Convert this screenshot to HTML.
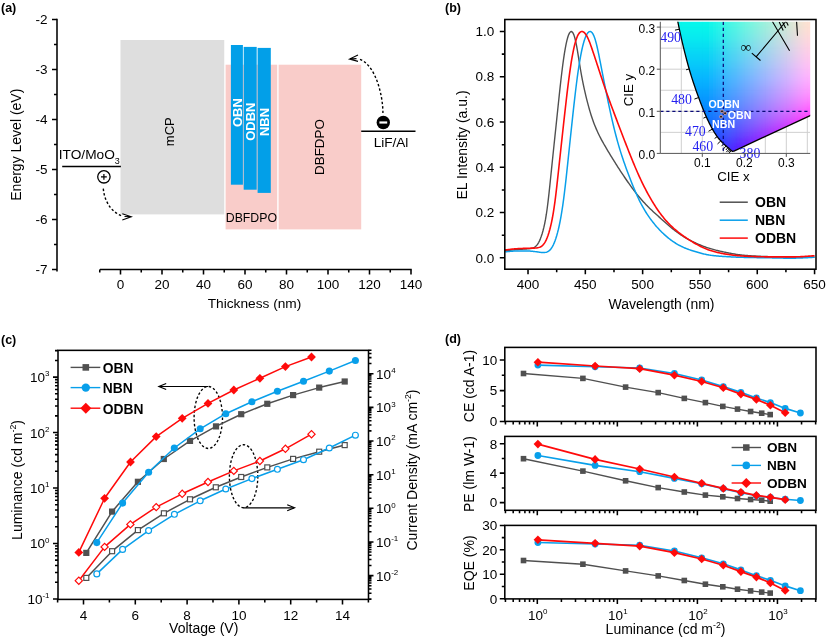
<!DOCTYPE html>
<html lang="en"><head><meta charset="utf-8"><title>Figure</title>
<style>html,body{margin:0;padding:0;background:#fff}svg{display:block}text{font-family:"Liberation Sans",Arial,sans-serif}</style>
</head><body>
<svg width="827" height="639" viewBox="0 0 827 639">
<rect width="827" height="639" fill="#fff"/>
<text x="1" y="11.8" font-size="12.5" text-anchor="start" font-weight="bold" fill="#000" >(a)</text>
<text x="445" y="11.8" font-size="12.5" text-anchor="start" font-weight="bold" fill="#000" >(b)</text>
<text x="1" y="343.5" font-size="12.5" text-anchor="start" font-weight="bold" fill="#000" >(c)</text>
<text x="445" y="343.2" font-size="12.5" text-anchor="start" font-weight="bold" fill="#000" >(d)</text>
<g id="panel-a">
<rect x="120.5" y="40" width="103.75" height="174.4" fill="#dedede"/>
<rect x="225.6" y="64.7" width="51.6" height="164.7" fill="#f9ccc9"/>
<rect x="278.6" y="64.7" width="82.6" height="164.7" fill="#f9ccc9"/>
<rect x="230.9" y="45" width="12" height="139.7" fill="#029fe8"/>
<rect x="243.7" y="46.9" width="13" height="142.8" fill="#029fe8"/>
<rect x="257.6" y="47.9" width="13.2" height="145" fill="#029fe8"/>
<text x="241.9" y="112.6" font-size="13" text-anchor="middle" font-weight="bold" fill="#fff" transform="rotate(-90 241.9 112.6)" >OBN</text>
<text x="255.5" y="121.7" font-size="13" text-anchor="middle" font-weight="bold" fill="#fff" transform="rotate(-90 255.5 121.7)" >ODBN</text>
<text x="269.1" y="122" font-size="13" text-anchor="middle" font-weight="bold" fill="#fff" transform="rotate(-90 269.1 122)" >NBN</text>
<text x="174.4" y="131.7" font-size="13" text-anchor="middle" fill="#000" transform="rotate(-90 174.4 131.7)" >mCP</text>
<text x="323.8" y="147" font-size="13.4" text-anchor="middle" fill="#000" transform="rotate(-90 323.8 147)" >DBFDPO</text>
<text x="251.4" y="222" font-size="12.3" text-anchor="middle" fill="#000" >DBFDPO</text>
<line x1="62.2" y1="166.4" x2="120.9" y2="166.4" stroke="#000" stroke-width="1.5" />
<text x="58.8" y="158.9" font-size="13.7" text-anchor="start" fill="#000" >ITO/MoO<tspan font-size="9" dy="4.6">3</tspan></text>
<line x1="361.2" y1="131.3" x2="415.5" y2="131.3" stroke="#000" stroke-width="1.5" />
<text x="391" y="147" font-size="13.6" text-anchor="middle" fill="#000" >LiF/Al</text>
<circle cx="103.9" cy="176.8" r="6.2" fill="#fff" stroke="#000" stroke-width="1.3"/>
<path d="M101,176.8H106.8M103.9,173.9V179.7" stroke="#000" stroke-width="1.2"/>
<circle cx="383.3" cy="122.5" r="6.7" fill="#000"/>
<path d="M379.4,122.5H387.2" stroke="#fff" stroke-width="2.2"/>
<path d="M103.3,188.6C104.5,202 112,213 123,216.2" stroke="#000" stroke-width="1.4" fill="none" stroke-dasharray="2.4 2.1"/>
<path d="M122.3,213.7L131.3,216.7L122.3,220M131.3,216.7L124.5,216.5" stroke="#000" stroke-width="1.1" fill="none" stroke-linejoin="miter"/>
<path d="M382.9,113C383.1,96 375.5,63.5 358.5,58.9" stroke="#000" stroke-width="1.4" fill="none" stroke-dasharray="2.4 2.1"/>
<path d="M358,55L349.5,59L358,61.4M349.5,59L356.5,58.6" stroke="#000" stroke-width="1.1" fill="none" stroke-linejoin="miter"/>
<line x1="57" y1="18.7" x2="57" y2="271.4" stroke="#000" stroke-width="1.55" />
<text x="47.5" y="24.1" font-size="13.5" text-anchor="end" fill="#000" >-2</text>
<text x="47.5" y="74.1" font-size="13.5" text-anchor="end" fill="#000" >-3</text>
<text x="47.5" y="124.1" font-size="13.5" text-anchor="end" fill="#000" >-4</text>
<text x="47.5" y="174.1" font-size="13.5" text-anchor="end" fill="#000" >-5</text>
<text x="47.5" y="224.1" font-size="13.5" text-anchor="end" fill="#000" >-6</text>
<text x="47.5" y="274.1" font-size="13.5" text-anchor="end" fill="#000" >-7</text>
<line x1="99.9" y1="269.4" x2="411.7" y2="269.4" stroke="#000" stroke-width="1.55" />
<text x="120.5" y="289" font-size="13.5" text-anchor="middle" fill="#000" >0</text>
<text x="162" y="289" font-size="13.5" text-anchor="middle" fill="#000" >20</text>
<text x="203.5" y="289" font-size="13.5" text-anchor="middle" fill="#000" >40</text>
<text x="245" y="289" font-size="13.5" text-anchor="middle" fill="#000" >60</text>
<text x="286.5" y="289" font-size="13.5" text-anchor="middle" fill="#000" >80</text>
<text x="328" y="289" font-size="13.5" text-anchor="middle" fill="#000" >100</text>
<text x="369.5" y="289" font-size="13.5" text-anchor="middle" fill="#000" >120</text>
<text x="411" y="289" font-size="13.5" text-anchor="middle" fill="#000" >140</text>
<path d="M57,19.4L52,19.4M57,44.4L54,44.4M57,69.4L52,69.4M57,94.4L54,94.4M57,119.4L52,119.4M57,144.4L54,144.4M57,169.4L52,169.4M57,194.4L54,194.4M57,219.4L52,219.4M57,244.4L54,244.4M57,269.4L52,269.4M99.75,269.4L99.75,272.4M120.5,269.4L120.5,274.4M141.25,269.4L141.25,272.4M162,269.4L162,274.4M182.75,269.4L182.75,272.4M203.5,269.4L203.5,274.4M224.25,269.4L224.25,272.4M245,269.4L245,274.4M265.75,269.4L265.75,272.4M286.5,269.4L286.5,274.4M307.25,269.4L307.25,272.4M328,269.4L328,274.4M348.75,269.4L348.75,272.4M369.5,269.4L369.5,274.4M390.25,269.4L390.25,272.4M411,269.4L411,274.4" stroke="#000" stroke-width="1.55" fill="none"/>
<text x="21" y="144.7" font-size="14" text-anchor="middle" fill="#000" transform="rotate(-90 21 144.7)" >Energy Level (eV)</text>
<text x="254.5" y="308.3" font-size="13.7" text-anchor="middle" fill="#000" >Thickness (nm)</text>
</g>
<g id="panel-b">
<clipPath id="cb"><rect x="504.8" y="19.5" width="311.2" height="249.7"/></clipPath>
<g clip-path="url(#cb)">
<path d="M505.1,250.78L505.96,250.71L506.82,250.63L507.68,250.53L508.54,250.43L509.4,250.33L510.26,250.22L511.12,250.12L511.98,250.02L512.84,249.92L513.7,249.83L514.56,249.75L515.42,249.67L516.28,249.6L517.14,249.53L517.99,249.46L518.85,249.41L519.71,249.35L520.57,249.3L521.43,249.25L522.29,249.21L523.15,249.16L524.01,249.11L524.87,249.06L525.73,249L526.59,248.94L527.45,248.88L528.31,248.81L529.17,248.72L530.03,248.62L530.89,248.49L531.75,248.32L532.61,248.1L533.47,247.78L534.33,247.36L535.19,246.8L536.05,246.07L536.91,245.13L537.77,243.97L538.63,242.55L539.49,240.85L540.35,238.86L541.21,236.58L542.06,233.98L542.92,231.03L543.78,227.68L544.64,223.84L545.5,219.4L546.36,214.23L547.22,208.24L548.08,201.43L548.94,193.9L549.8,185.84L550.66,177.48L551.52,169.06L552.38,160.7L553.24,152.45L554.1,144.29L554.96,136.15L555.82,127.97L556.68,119.74L557.54,111.47L558.4,103.22L559.26,95.08L560.12,87.14L560.98,79.48L561.84,72.21L562.7,65.39L563.56,59.1L564.42,53.39L565.28,48.29L566.14,43.85L566.99,40.09L567.85,37L568.71,34.61L569.57,32.89L570.43,31.85L571.29,31.5L572.15,31.86L573.01,32.96L573.87,34.85L574.73,37.54L575.59,41.01L576.45,45.21L577.31,49.98L578.17,55.16L579.03,60.52L579.89,65.85L580.75,71L581.61,75.86L582.47,80.4L583.33,84.65L584.19,88.65L585.05,92.46L585.91,96.1L586.77,99.59L587.63,102.95L588.49,106.16L589.35,109.23L590.21,112.16L591.07,114.93L591.92,117.57L592.78,120.07L593.64,122.45L594.5,124.7L595.36,126.84L596.22,128.89L597.08,130.84L597.94,132.71L598.8,134.51L599.66,136.24L600.52,137.92L601.38,139.55L602.24,141.14L603.1,142.69L603.96,144.22L604.82,145.71L605.68,147.19L606.54,148.65L607.4,150.1L608.26,151.53L609.12,152.96L609.98,154.37L610.84,155.78L611.7,157.18L612.56,158.58L613.42,159.97L614.28,161.35L615.14,162.72L615.99,164.08L616.85,165.44L617.71,166.78L618.57,168.12L619.43,169.45L620.29,170.77L621.15,172.09L622.01,173.39L622.87,174.68L623.73,175.97L624.59,177.24L625.45,178.51L626.31,179.76L627.17,181L628.03,182.24L628.89,183.46L629.75,184.67L630.61,185.86L631.47,187.05L632.33,188.21L633.19,189.37L634.05,190.51L634.91,191.63L635.77,192.74L636.63,193.82L637.49,194.9L638.35,195.95L639.21,196.99L640.07,198.01L640.92,199.01L641.78,200L642.64,200.96L643.5,201.92L644.36,202.85L645.22,203.77L646.08,204.67L646.94,205.56L647.8,206.43L648.66,207.29L649.52,208.13L650.38,208.96L651.24,209.78L652.1,210.59L652.96,211.39L653.82,212.19L654.68,212.97L655.54,213.76L656.4,214.53L657.26,215.31L658.12,216.08L658.98,216.86L659.84,217.63L660.7,218.4L661.56,219.17L662.42,219.95L663.28,220.72L664.14,221.49L664.99,222.26L665.85,223.02L666.71,223.78L667.57,224.53L668.43,225.28L669.29,226.02L670.15,226.74L671.01,227.46L671.87,228.17L672.73,228.87L673.59,229.56L674.45,230.23L675.31,230.89L676.17,231.54L677.03,232.18L677.89,232.8L678.75,233.41L679.61,234.01L680.47,234.59L681.33,235.16L682.19,235.72L683.05,236.26L683.91,236.8L684.77,237.32L685.63,237.83L686.49,238.32L687.35,238.81L688.21,239.28L689.07,239.75L689.92,240.2L690.78,240.65L691.64,241.08L692.5,241.51L693.36,241.93L694.22,242.34L695.08,242.74L695.94,243.14L696.8,243.53L697.66,243.91L698.52,244.28L699.38,244.65L700.24,245.01L701.1,245.36L701.96,245.71L702.82,246.04L703.68,246.37L704.54,246.69L705.4,247L706.26,247.3L707.12,247.59L707.98,247.88L708.84,248.15L709.7,248.42L710.56,248.68L711.42,248.94L712.28,249.18L713.14,249.42L713.99,249.66L714.85,249.89L715.71,250.11L716.57,250.32L717.43,250.54L718.29,250.74L719.15,250.95L720.01,251.15L720.87,251.34L721.73,251.54L722.59,251.73L723.45,251.92L724.31,252.1L725.17,252.28L726.03,252.46L726.89,252.64L727.75,252.81L728.61,252.98L729.47,253.15L730.33,253.31L731.19,253.47L732.05,253.62L732.91,253.77L733.77,253.92L734.63,254.06L735.49,254.2L736.35,254.33L737.21,254.45L738.07,254.57L738.92,254.69L739.78,254.79L740.64,254.9L741.5,255L742.36,255.09L743.22,255.18L744.08,255.26L744.94,255.34L745.8,255.42L746.66,255.49L747.52,255.56L748.38,255.63L749.24,255.69L750.1,255.75L750.96,255.81L751.82,255.86L752.68,255.92L753.54,255.97L754.4,256.01L755.26,256.06L756.12,256.11L756.98,256.15L757.84,256.19L758.7,256.23L759.56,256.27L760.42,256.3L761.28,256.34L762.14,256.38L763,256.41L763.85,256.44L764.71,256.47L765.57,256.5L766.43,256.53L767.29,256.56L768.15,256.59L769.01,256.62L769.87,256.64L770.73,256.67L771.59,256.69L772.45,256.71L773.31,256.73L774.17,256.75L775.03,256.77L775.89,256.79L776.75,256.81L777.61,256.82L778.47,256.84L779.33,256.85L780.19,256.87L781.05,256.88L781.91,256.89L782.77,256.9L783.63,256.91L784.49,256.92L785.35,256.93L786.21,256.94L787.07,256.95L787.92,256.96L788.78,256.97L789.64,256.98L790.5,256.99L791.36,256.99L792.22,257L793.08,257.01L793.94,257.02L794.8,257.02L795.66,257.03L796.52,257.03L797.38,257.04L798.24,257.05L799.1,257.05L799.96,257.06L800.82,257.06L801.68,257.07L802.54,257.07L803.4,257.08L804.26,257.08L805.12,257.08L805.98,257.09L806.84,257.09L807.7,257.09L808.56,257.1L809.42,257.1L810.28,257.1L811.14,257.1L812,257.1L812.85,257.11L813.71,257.11L814.57,257.11" stroke="#505050" stroke-width="1.4" fill="none" stroke-linejoin="round"/>
<path d="M505.1,251.75L505.96,251.7L506.82,251.63L507.68,251.56L508.54,251.48L509.4,251.4L510.26,251.32L511.12,251.25L511.98,251.18L512.84,251.13L513.7,251.08L514.56,251.04L515.42,251.01L516.28,250.99L517.14,250.97L517.99,250.97L518.85,250.96L519.71,250.96L520.57,250.96L521.43,250.95L522.29,250.95L523.15,250.96L524.01,250.96L524.87,250.96L525.73,250.96L526.59,250.97L527.45,250.99L528.31,251.01L529.17,251.05L530.03,251.1L530.89,251.16L531.75,251.23L532.61,251.32L533.47,251.41L534.33,251.52L535.19,251.62L536.05,251.74L536.91,251.85L537.77,251.97L538.63,252.1L539.49,252.21L540.35,252.33L541.21,252.43L542.06,252.5L542.92,252.54L543.78,252.54L544.64,252.49L545.5,252.37L546.36,252.18L547.22,251.88L548.08,251.46L548.94,250.89L549.8,250.16L550.66,249.22L551.52,248.07L552.38,246.69L553.24,245.05L554.1,243.15L554.96,240.97L555.82,238.51L556.68,235.74L557.54,232.65L558.4,229.24L559.26,225.46L560.12,221.27L560.98,216.63L561.84,211.48L562.7,205.8L563.56,199.57L564.42,192.83L565.28,185.62L566.14,178.05L566.99,170.18L567.85,162.12L568.71,153.95L569.57,145.73L570.43,137.53L571.29,129.39L572.15,121.33L573.01,113.4L573.87,105.63L574.73,98.06L575.59,90.75L576.45,83.75L577.31,77.15L578.17,70.98L579.03,65.27L579.89,60.04L580.75,55.28L581.61,50.99L582.47,47.14L583.33,43.73L584.19,40.75L585.05,38.21L585.91,36.08L586.77,34.38L587.63,33.07L588.49,32.16L589.35,31.63L590.21,31.5L591.07,31.77L591.92,32.48L592.78,33.64L593.64,35.29L594.5,37.44L595.36,40.08L596.22,43.19L597.08,46.71L597.94,50.58L598.8,54.72L599.66,59.03L600.52,63.43L601.38,67.87L602.24,72.3L603.1,76.7L603.96,81.07L604.82,85.39L605.68,89.68L606.54,93.94L607.4,98.14L608.26,102.29L609.12,106.38L609.98,110.39L610.84,114.32L611.7,118.15L612.56,121.89L613.42,125.53L614.28,129.06L615.14,132.49L615.99,135.81L616.85,139.02L617.71,142.13L618.57,145.14L619.43,148.06L620.29,150.88L621.15,153.62L622.01,156.27L622.87,158.86L623.73,161.39L624.59,163.85L625.45,166.27L626.31,168.64L627.17,170.98L628.03,173.28L628.89,175.55L629.75,177.8L630.61,180.01L631.47,182.2L632.33,184.36L633.19,186.48L634.05,188.56L634.91,190.61L635.77,192.61L636.63,194.56L637.49,196.45L638.35,198.3L639.21,200.09L640.07,201.82L640.92,203.5L641.78,205.13L642.64,206.7L643.5,208.22L644.36,209.69L645.22,211.12L646.08,212.5L646.94,213.84L647.8,215.14L648.66,216.41L649.52,217.64L650.38,218.84L651.24,220L652.1,221.14L652.96,222.24L653.82,223.32L654.68,224.37L655.54,225.4L656.4,226.4L657.26,227.38L658.12,228.33L658.98,229.26L659.84,230.17L660.7,231.05L661.56,231.91L662.42,232.76L663.28,233.58L664.14,234.38L664.99,235.16L665.85,235.92L666.71,236.66L667.57,237.38L668.43,238.08L669.29,238.76L670.15,239.42L671.01,240.06L671.87,240.69L672.73,241.29L673.59,241.88L674.45,242.45L675.31,243L676.17,243.53L677.03,244.05L677.89,244.55L678.75,245.03L679.61,245.49L680.47,245.94L681.33,246.37L682.19,246.79L683.05,247.19L683.91,247.57L684.77,247.94L685.63,248.3L686.49,248.64L687.35,248.97L688.21,249.29L689.07,249.6L689.92,249.9L690.78,250.19L691.64,250.47L692.5,250.75L693.36,251.02L694.22,251.29L695.08,251.56L695.94,251.81L696.8,252.07L697.66,252.32L698.52,252.57L699.38,252.81L700.24,253.05L701.1,253.28L701.96,253.51L702.82,253.73L703.68,253.93L704.54,254.13L705.4,254.32L706.26,254.5L707.12,254.67L707.98,254.83L708.84,254.98L709.7,255.12L710.56,255.25L711.42,255.37L712.28,255.48L713.14,255.58L713.99,255.68L714.85,255.77L715.71,255.86L716.57,255.94L717.43,256.01L718.29,256.08L719.15,256.15L720.01,256.22L720.87,256.28L721.73,256.34L722.59,256.4L723.45,256.46L724.31,256.52L725.17,256.57L726.03,256.62L726.89,256.67L727.75,256.72L728.61,256.77L729.47,256.82L730.33,256.86L731.19,256.91L732.05,256.95L732.91,256.99L733.77,257.03L734.63,257.07L735.49,257.11L736.35,257.15L737.21,257.18L738.07,257.21L738.92,257.24L739.78,257.27L740.64,257.3L741.5,257.32L742.36,257.35L743.22,257.37L744.08,257.39L744.94,257.41L745.8,257.43L746.66,257.45L747.52,257.47L748.38,257.49L749.24,257.5L750.1,257.52L750.96,257.53L751.82,257.55L752.68,257.56L753.54,257.57L754.4,257.59L755.26,257.6L756.12,257.61L756.98,257.63L757.84,257.64L758.7,257.65L759.56,257.66L760.42,257.68L761.28,257.69L762.14,257.7L763,257.72L763.85,257.73L764.71,257.74L765.57,257.76L766.43,257.77L767.29,257.79L768.15,257.81L769.01,257.82L769.87,257.84L770.73,257.86L771.59,257.87L772.45,257.89L773.31,257.91L774.17,257.93L775.03,257.95L775.89,257.97L776.75,257.99L777.61,258.01L778.47,258.03L779.33,258.05L780.19,258.07L781.05,258.08L781.91,258.1L782.77,258.12L783.63,258.13L784.49,258.15L785.35,258.16L786.21,258.17L787.07,258.18L787.92,258.19L788.78,258.19L789.64,258.19L790.5,258.19L791.36,258.19L792.22,258.19L793.08,258.18L793.94,258.17L794.8,258.16L795.66,258.14L796.52,258.12L797.38,258.1L798.24,258.07L799.1,258.04L799.96,258.01L800.82,257.98L801.68,257.94L802.54,257.9L803.4,257.86L804.26,257.81L805.12,257.77L805.98,257.72L806.84,257.68L807.7,257.63L808.56,257.58L809.42,257.53L810.28,257.49L811.14,257.44L812,257.4L812.85,257.36L813.71,257.32L814.57,257.29" stroke="#089fea" stroke-width="1.5" fill="none" stroke-linejoin="round"/>
<path d="M505.1,249.9L505.96,249.83L506.82,249.74L507.68,249.65L508.54,249.54L509.4,249.43L510.26,249.33L511.12,249.22L511.98,249.12L512.84,249.03L513.7,248.95L514.56,248.87L515.42,248.8L516.28,248.74L517.14,248.68L517.99,248.63L518.85,248.58L519.71,248.54L520.57,248.5L521.43,248.46L522.29,248.43L523.15,248.4L524.01,248.37L524.87,248.34L525.73,248.31L526.59,248.28L527.45,248.26L528.31,248.24L529.17,248.21L530.03,248.19L530.89,248.17L531.75,248.15L532.61,248.13L533.47,248.11L534.33,248.08L535.19,248.03L536.05,247.97L536.91,247.88L537.77,247.75L538.63,247.56L539.49,247.31L540.35,246.96L541.21,246.48L542.06,245.86L542.92,245.07L543.78,244.07L544.64,242.84L545.5,241.36L546.36,239.6L547.22,237.56L548.08,235.2L548.94,232.52L549.8,229.5L550.66,226.11L551.52,222.31L552.38,218.02L553.24,213.17L554.1,207.68L554.96,201.52L555.82,194.73L556.68,187.41L557.54,179.7L558.4,171.77L559.26,163.74L560.12,155.72L560.98,147.75L561.84,139.84L562.7,131.99L563.56,124.18L564.42,116.43L565.28,108.76L566.14,101.22L566.99,93.86L567.85,86.76L568.71,79.98L569.57,73.56L570.43,67.56L571.29,61.99L572.15,56.89L573.01,52.28L573.87,48.15L574.73,44.51L575.59,41.36L576.45,38.69L577.31,36.47L578.17,34.7L579.03,33.35L579.89,32.39L580.75,31.79L581.61,31.52L582.47,31.56L583.33,31.9L584.19,32.52L585.05,33.41L585.91,34.57L586.77,35.98L587.63,37.63L588.49,39.5L589.35,41.57L590.21,43.8L591.07,46.16L591.92,48.62L592.78,51.14L593.64,53.71L594.5,56.29L595.36,58.9L596.22,61.51L597.08,64.13L597.94,66.76L598.8,69.39L599.66,72.02L600.52,74.65L601.38,77.27L602.24,79.87L603.1,82.45L603.96,85.01L604.82,87.54L605.68,90.04L606.54,92.52L607.4,94.96L608.26,97.37L609.12,99.75L609.98,102.11L610.84,104.44L611.7,106.76L612.56,109.05L613.42,111.34L614.28,113.61L615.14,115.88L615.99,118.14L616.85,120.4L617.71,122.66L618.57,124.93L619.43,127.19L620.29,129.45L621.15,131.71L622.01,133.96L622.87,136.21L623.73,138.45L624.59,140.69L625.45,142.91L626.31,145.12L627.17,147.32L628.03,149.51L628.89,151.68L629.75,153.84L630.61,155.99L631.47,158.12L632.33,160.24L633.19,162.33L634.05,164.41L634.91,166.46L635.77,168.49L636.63,170.49L637.49,172.46L638.35,174.41L639.21,176.32L640.07,178.19L640.92,180.03L641.78,181.84L642.64,183.62L643.5,185.36L644.36,187.07L645.22,188.74L646.08,190.39L646.94,192L647.8,193.59L648.66,195.15L649.52,196.68L650.38,198.18L651.24,199.66L652.1,201.11L652.96,202.53L653.82,203.93L654.68,205.29L655.54,206.63L656.4,207.94L657.26,209.22L658.12,210.47L658.98,211.7L659.84,212.89L660.7,214.05L661.56,215.18L662.42,216.29L663.28,217.36L664.14,218.41L664.99,219.43L665.85,220.42L666.71,221.38L667.57,222.32L668.43,223.23L669.29,224.12L670.15,224.99L671.01,225.83L671.87,226.65L672.73,227.45L673.59,228.23L674.45,228.99L675.31,229.73L676.17,230.45L677.03,231.16L677.89,231.85L678.75,232.53L679.61,233.2L680.47,233.85L681.33,234.49L682.19,235.12L683.05,235.74L683.91,236.34L684.77,236.94L685.63,237.53L686.49,238.11L687.35,238.68L688.21,239.24L689.07,239.8L689.92,240.34L690.78,240.88L691.64,241.41L692.5,241.93L693.36,242.44L694.22,242.95L695.08,243.44L695.94,243.93L696.8,244.41L697.66,244.88L698.52,245.34L699.38,245.79L700.24,246.23L701.1,246.66L701.96,247.08L702.82,247.49L703.68,247.88L704.54,248.26L705.4,248.63L706.26,248.98L707.12,249.32L707.98,249.65L708.84,249.96L709.7,250.26L710.56,250.54L711.42,250.82L712.28,251.08L713.14,251.34L713.99,251.58L714.85,251.81L715.71,252.03L716.57,252.25L717.43,252.45L718.29,252.65L719.15,252.84L720.01,253.02L720.87,253.2L721.73,253.37L722.59,253.53L723.45,253.69L724.31,253.85L725.17,254L726.03,254.14L726.89,254.28L727.75,254.41L728.61,254.54L729.47,254.67L730.33,254.79L731.19,254.9L732.05,255.02L732.91,255.12L733.77,255.23L734.63,255.32L735.49,255.41L736.35,255.5L737.21,255.59L738.07,255.66L738.92,255.74L739.78,255.81L740.64,255.87L741.5,255.94L742.36,255.99L743.22,256.05L744.08,256.1L744.94,256.15L745.8,256.2L746.66,256.24L747.52,256.29L748.38,256.33L749.24,256.37L750.1,256.41L750.96,256.44L751.82,256.48L752.68,256.51L753.54,256.55L754.4,256.58L755.26,256.61L756.12,256.63L756.98,256.66L757.84,256.68L758.7,256.71L759.56,256.73L760.42,256.75L761.28,256.77L762.14,256.79L763,256.8L763.85,256.81L764.71,256.83L765.57,256.84L766.43,256.85L767.29,256.85L768.15,256.86L769.01,256.87L769.87,256.87L770.73,256.88L771.59,256.88L772.45,256.88L773.31,256.88L774.17,256.88L775.03,256.89L775.89,256.89L776.75,256.89L777.61,256.89L778.47,256.89L779.33,256.89L780.19,256.89L781.05,256.89L781.91,256.89L782.77,256.89L783.63,256.89L784.49,256.89L785.35,256.89L786.21,256.89L787.07,256.89L787.92,256.89L788.78,256.88L789.64,256.88L790.5,256.88L791.36,256.87L792.22,256.87L793.08,256.86L793.94,256.85L794.8,256.84L795.66,256.83L796.52,256.81L797.38,256.79L798.24,256.77L799.1,256.74L799.96,256.71L800.82,256.67L801.68,256.63L802.54,256.58L803.4,256.53L804.26,256.48L805.12,256.42L805.98,256.36L806.84,256.3L807.7,256.23L808.56,256.17L809.42,256.1L810.28,256.04L811.14,255.98L812,255.92L812.85,255.86L813.71,255.81L814.57,255.77" stroke="#ff0a0a" stroke-width="1.6" fill="none" stroke-linejoin="round"/>
</g>
<clipPath id="ci"><rect x="660.3" y="21.8" width="149.9" height="131.6"/></clipPath>
<clipPath id="cl"><path d="M733.42,151.3L733.41,151.3L733.4,151.31L733.38,151.31L733.35,151.32L733.33,151.33L733.3,151.34L733.27,151.34L733.24,151.35L733.21,151.36L733.18,151.36L733.14,151.37L733.11,151.38L733.07,151.38L733.03,151.39L732.99,151.39L732.95,151.39L732.9,151.39L732.84,151.38L732.78,151.38L732.71,151.37L732.63,151.35L732.54,151.33L732.46,151.31L732.37,151.29L732.29,151.25L732.21,151.22L732.14,151.18L732.07,151.13L732,151.09L731.92,151.03L731.85,150.98L731.77,150.92L731.69,150.85L731.6,150.78L731.51,150.71L731.41,150.63L731.3,150.55L731.19,150.46L731.07,150.36L730.94,150.25L730.81,150.14L730.67,150.02L730.52,149.89L730.37,149.76L730.22,149.62L730.06,149.47L729.9,149.32L729.73,149.16L729.55,149L729.37,148.83L729.18,148.66L728.97,148.48L728.76,148.29L728.54,148.09L728.31,147.89L728.06,147.67L727.79,147.44L727.52,147.2L727.23,146.95L726.92,146.69L726.61,146.41L726.28,146.13L725.95,145.84L725.6,145.54L725.24,145.22L724.87,144.9L724.49,144.55L724.09,144.19L723.68,143.8L723.24,143.39L722.79,142.96L722.33,142.5L721.85,142.02L721.36,141.51L720.86,140.98L720.35,140.43L719.82,139.85L719.27,139.22L718.7,138.54L718.11,137.79L717.48,136.97L716.82,136.07L716.13,135.07L715.4,133.97L714.63,132.78L713.84,131.48L713.01,130.09L712.15,128.58L711.25,126.96L710.33,125.21L709.37,123.33L708.37,121.29L707.34,119.1L706.27,116.73L705.17,114.17L704.02,111.42L702.83,108.47L701.58,105.3L700.29,101.93L698.94,98.32L697.53,94.49L696.07,90.41L694.57,86.08L693.03,81.48L691.47,76.61L689.9,71.45L688.32,66L686.75,60.25L685.17,54.21L683.61,47.88L682.05,41.29L680.5,34.43L678.97,27.31L677.45,19.94L675.95,12.33L674.46,4.49L673.01,-3.57L671.57,-11.86L670.17,-20.35L830.2,-38.2L830.2,107.56L810.2,115.56Z"/></clipPath>
<filter id="bl" x="-10%" y="-10%" width="120%" height="120%"><feGaussianBlur stdDeviation="3"/></filter>
<g clip-path="url(#ci)">
<path d="M681.3,21.8V153.4M702.3,21.8V153.4M723.3,21.8V153.4M744.3,21.8V153.4M765.3,21.8V153.4M786.3,21.8V153.4M807.3,21.8V153.4M660.3,132.35H810.2M660.3,111.3H810.2M660.3,90.25H810.2M660.3,69.2H810.2M660.3,48.15H810.2M660.3,27.1H810.2" stroke="#cfcfcf" stroke-width="1" fill="none"/>
<g clip-path="url(#cl)"><g filter="url(#bl)">
<path d="M661,9.8h6v6h-6z" fill="#00f7eb"/><path d="M667,9.8h6v6h-6z" fill="#00f7eb"/><path d="M673,9.8h6v6h-6z" fill="#00f7eb"/><path d="M679,9.8h6v6h-6z" fill="#00f7eb"/><path d="M685,9.8h6v6h-6z" fill="#00f7eb"/><path d="M691,9.8h6v6h-6z" fill="#00f7eb"/><path d="M697,9.8h6v6h-6z" fill="#00f7eb"/><path d="M703,9.8h6v6h-6z" fill="#00f7ea"/><path d="M709,9.8h6v6h-6z" fill="#0cf7e8"/><path d="M715,9.8h6v6h-6z" fill="#1ff7e7"/><path d="M721,9.8h6v6h-6z" fill="#30f7e5"/><path d="M727,9.8h6v6h-6z" fill="#40f7e4"/><path d="M733,9.8h6v6h-6z" fill="#50f7e2"/><path d="M739,9.8h6v6h-6z" fill="#60f7e1"/><path d="M745,9.8h6v6h-6z" fill="#70f6e0"/><path d="M751,9.8h6v6h-6z" fill="#7ff4de"/><path d="M757,9.8h6v6h-6z" fill="#8ef2dd"/><path d="M763,9.8h6v6h-6z" fill="#9df0db"/><path d="M769,9.8h6v6h-6z" fill="#abeeda"/><path d="M775,9.8h6v6h-6z" fill="#baebd8"/><path d="M781,9.8h6v6h-6z" fill="#c8e9d7"/><path d="M787,9.8h6v6h-6z" fill="#d6e7d5"/><path d="M793,9.8h6v6h-6z" fill="#e5e5d4"/><path d="M799,9.8h6v6h-6z" fill="#f3e3d2"/><path d="M805,9.8h6v6h-6z" fill="#ffe1d1"/><path d="M811,9.8h6v6h-6z" fill="#ffe1d1"/><path d="M817,9.8h6v6h-6z" fill="#ffe1d1"/><path d="M661,15.8h6v6h-6z" fill="#00f7eb"/><path d="M667,15.8h6v6h-6z" fill="#00f7eb"/><path d="M673,15.8h6v6h-6z" fill="#00f7eb"/><path d="M679,15.8h6v6h-6z" fill="#00f7eb"/><path d="M685,15.8h6v6h-6z" fill="#00f7eb"/><path d="M691,15.8h6v6h-6z" fill="#00f7eb"/><path d="M697,15.8h6v6h-6z" fill="#00f7eb"/><path d="M703,15.8h6v6h-6z" fill="#00f7ea"/><path d="M709,15.8h6v6h-6z" fill="#0cf7e8"/><path d="M715,15.8h6v6h-6z" fill="#1ff7e7"/><path d="M721,15.8h6v6h-6z" fill="#30f7e5"/><path d="M727,15.8h6v6h-6z" fill="#40f7e4"/><path d="M733,15.8h6v6h-6z" fill="#50f7e2"/><path d="M739,15.8h6v6h-6z" fill="#60f7e1"/><path d="M745,15.8h6v6h-6z" fill="#70f6e0"/><path d="M751,15.8h6v6h-6z" fill="#7ff4de"/><path d="M757,15.8h6v6h-6z" fill="#8ef2dd"/><path d="M763,15.8h6v6h-6z" fill="#9df0db"/><path d="M769,15.8h6v6h-6z" fill="#abeeda"/><path d="M775,15.8h6v6h-6z" fill="#baebd8"/><path d="M781,15.8h6v6h-6z" fill="#c8e9d7"/><path d="M787,15.8h6v6h-6z" fill="#d6e7d5"/><path d="M793,15.8h6v6h-6z" fill="#e5e5d4"/><path d="M799,15.8h6v6h-6z" fill="#f3e3d2"/><path d="M805,15.8h6v6h-6z" fill="#ffe1d1"/><path d="M811,15.8h6v6h-6z" fill="#ffe1d1"/><path d="M817,15.8h6v6h-6z" fill="#ffe1d1"/><path d="M667,21.8h6v6h-6z" fill="#00f7eb"/><path d="M673,21.8h6v6h-6z" fill="#00f7eb"/><path d="M679,21.8h6v6h-6z" fill="#00f7eb"/><path d="M685,21.8h6v6h-6z" fill="#00f7eb"/><path d="M691,21.8h6v6h-6z" fill="#00f7eb"/><path d="M697,21.8h6v6h-6z" fill="#00f7eb"/><path d="M703,21.8h6v6h-6z" fill="#00f7ea"/><path d="M709,21.8h6v6h-6z" fill="#0cf7e8"/><path d="M715,21.8h6v6h-6z" fill="#1ff7e7"/><path d="M721,21.8h6v6h-6z" fill="#30f7e5"/><path d="M727,21.8h6v6h-6z" fill="#40f7e4"/><path d="M733,21.8h6v6h-6z" fill="#50f7e2"/><path d="M739,21.8h6v6h-6z" fill="#60f7e1"/><path d="M745,21.8h6v6h-6z" fill="#70f6e0"/><path d="M751,21.8h6v6h-6z" fill="#7ff4de"/><path d="M757,21.8h6v6h-6z" fill="#8ef2dd"/><path d="M763,21.8h6v6h-6z" fill="#9df0db"/><path d="M769,21.8h6v6h-6z" fill="#abeeda"/><path d="M775,21.8h6v6h-6z" fill="#baebd8"/><path d="M781,21.8h6v6h-6z" fill="#c8e9d7"/><path d="M787,21.8h6v6h-6z" fill="#d6e7d5"/><path d="M793,21.8h6v6h-6z" fill="#e5e5d4"/><path d="M799,21.8h6v6h-6z" fill="#f3e3d2"/><path d="M805,21.8h6v6h-6z" fill="#ffe1d1"/><path d="M811,21.8h6v6h-6z" fill="#ffe1d1"/><path d="M817,21.8h6v6h-6z" fill="#ffe1d1"/><path d="M667,27.8h6v6h-6z" fill="#00f1ec"/><path d="M673,27.8h6v6h-6z" fill="#00f1ec"/><path d="M679,27.8h6v6h-6z" fill="#00f1ec"/><path d="M685,27.8h6v6h-6z" fill="#00f1ec"/><path d="M691,27.8h6v6h-6z" fill="#00f1ec"/><path d="M697,27.8h6v6h-6z" fill="#00f1ec"/><path d="M703,27.8h6v6h-6z" fill="#00f1eb"/><path d="M709,27.8h6v6h-6z" fill="#0cf1ea"/><path d="M715,27.8h6v6h-6z" fill="#1ff1e9"/><path d="M721,27.8h6v6h-6z" fill="#30f1e7"/><path d="M727,27.8h6v6h-6z" fill="#40f1e6"/><path d="M733,27.8h6v6h-6z" fill="#50f1e5"/><path d="M739,27.8h6v6h-6z" fill="#60f1e3"/><path d="M745,27.8h6v6h-6z" fill="#70f0e2"/><path d="M751,27.8h6v6h-6z" fill="#7feee0"/><path d="M757,27.8h6v6h-6z" fill="#8eecdf"/><path d="M763,27.8h6v6h-6z" fill="#9deade"/><path d="M769,27.8h6v6h-6z" fill="#abe8dc"/><path d="M775,27.8h6v6h-6z" fill="#bae6db"/><path d="M781,27.8h6v6h-6z" fill="#c8e4da"/><path d="M787,27.8h6v6h-6z" fill="#d6e2d8"/><path d="M793,27.8h6v6h-6z" fill="#e5e0d7"/><path d="M799,27.8h6v6h-6z" fill="#f3ded6"/><path d="M805,27.8h6v6h-6z" fill="#ffddd4"/><path d="M811,27.8h6v6h-6z" fill="#ffddd4"/><path d="M817,27.8h6v6h-6z" fill="#ffddd4"/><path d="M667,33.8h6v6h-6z" fill="#00eaef"/><path d="M673,33.8h6v6h-6z" fill="#00eaef"/><path d="M679,33.8h6v6h-6z" fill="#00eaef"/><path d="M685,33.8h6v6h-6z" fill="#00eaef"/><path d="M691,33.8h6v6h-6z" fill="#00eaef"/><path d="M697,33.8h6v6h-6z" fill="#00eaef"/><path d="M703,33.8h6v6h-6z" fill="#00eaee"/><path d="M709,33.8h6v6h-6z" fill="#0ceaed"/><path d="M715,33.8h6v6h-6z" fill="#1feaeb"/><path d="M721,33.8h6v6h-6z" fill="#30eaea"/><path d="M727,33.8h6v6h-6z" fill="#40eae9"/><path d="M733,33.8h6v6h-6z" fill="#50eae8"/><path d="M739,33.8h6v6h-6z" fill="#60eae7"/><path d="M745,33.8h6v6h-6z" fill="#70e9e6"/><path d="M751,33.8h6v6h-6z" fill="#7fe7e4"/><path d="M757,33.8h6v6h-6z" fill="#8ee6e3"/><path d="M763,33.8h6v6h-6z" fill="#9de4e2"/><path d="M769,33.8h6v6h-6z" fill="#abe2e1"/><path d="M775,33.8h6v6h-6z" fill="#bae1e0"/><path d="M781,33.8h6v6h-6z" fill="#c8dfde"/><path d="M787,33.8h6v6h-6z" fill="#d6dddd"/><path d="M793,33.8h6v6h-6z" fill="#e5dcdc"/><path d="M799,33.8h6v6h-6z" fill="#f3dadb"/><path d="M805,33.8h6v6h-6z" fill="#ffd9da"/><path d="M811,33.8h6v6h-6z" fill="#ffd9da"/><path d="M817,33.8h6v6h-6z" fill="#ffd9da"/><path d="M667,39.8h6v6h-6z" fill="#00e3f1"/><path d="M673,39.8h6v6h-6z" fill="#00e3f1"/><path d="M679,39.8h6v6h-6z" fill="#00e3f1"/><path d="M685,39.8h6v6h-6z" fill="#00e3f1"/><path d="M691,39.8h6v6h-6z" fill="#00e3f1"/><path d="M697,39.8h6v6h-6z" fill="#00e3f1"/><path d="M703,39.8h6v6h-6z" fill="#00e3f0"/><path d="M709,39.8h6v6h-6z" fill="#0ce3ef"/><path d="M715,39.8h6v6h-6z" fill="#1fe3ee"/><path d="M721,39.8h6v6h-6z" fill="#30e3ed"/><path d="M727,39.8h6v6h-6z" fill="#40e3ec"/><path d="M733,39.8h6v6h-6z" fill="#50e3eb"/><path d="M739,39.8h6v6h-6z" fill="#60e3ea"/><path d="M745,39.8h6v6h-6z" fill="#70e2e9"/><path d="M751,39.8h6v6h-6z" fill="#7fe0e8"/><path d="M757,39.8h6v6h-6z" fill="#8edfe7"/><path d="M763,39.8h6v6h-6z" fill="#9ddee6"/><path d="M769,39.8h6v6h-6z" fill="#abdce5"/><path d="M775,39.8h6v6h-6z" fill="#badbe4"/><path d="M781,39.8h6v6h-6z" fill="#c8dae3"/><path d="M787,39.8h6v6h-6z" fill="#d6d8e2"/><path d="M793,39.8h6v6h-6z" fill="#e5d7e1"/><path d="M799,39.8h6v6h-6z" fill="#f3d5e0"/><path d="M805,39.8h6v6h-6z" fill="#ffd4df"/><path d="M811,39.8h6v6h-6z" fill="#ffd4df"/><path d="M817,39.8h6v6h-6z" fill="#ffd4df"/><path d="M667,45.8h6v6h-6z" fill="#00dbf3"/><path d="M673,45.8h6v6h-6z" fill="#00dbf3"/><path d="M679,45.8h6v6h-6z" fill="#00dbf3"/><path d="M685,45.8h6v6h-6z" fill="#00dbf3"/><path d="M691,45.8h6v6h-6z" fill="#00dbf3"/><path d="M697,45.8h6v6h-6z" fill="#00dbf3"/><path d="M703,45.8h6v6h-6z" fill="#00dbf3"/><path d="M709,45.8h6v6h-6z" fill="#0cdbf2"/><path d="M715,45.8h6v6h-6z" fill="#1fdbf1"/><path d="M721,45.8h6v6h-6z" fill="#30dbf0"/><path d="M727,45.8h6v6h-6z" fill="#40dbf0"/><path d="M733,45.8h6v6h-6z" fill="#50dbef"/><path d="M739,45.8h6v6h-6z" fill="#60dbee"/><path d="M745,45.8h6v6h-6z" fill="#70daed"/><path d="M751,45.8h6v6h-6z" fill="#7fd9ec"/><path d="M757,45.8h6v6h-6z" fill="#8ed8eb"/><path d="M763,45.8h6v6h-6z" fill="#9dd7eb"/><path d="M769,45.8h6v6h-6z" fill="#abd6ea"/><path d="M775,45.8h6v6h-6z" fill="#bad5e9"/><path d="M781,45.8h6v6h-6z" fill="#c8d4e8"/><path d="M787,45.8h6v6h-6z" fill="#d6d3e7"/><path d="M793,45.8h6v6h-6z" fill="#e5d2e6"/><path d="M799,45.8h6v6h-6z" fill="#f3d0e6"/><path d="M805,45.8h6v6h-6z" fill="#ffcfe5"/><path d="M811,45.8h6v6h-6z" fill="#ffcfe5"/><path d="M817,45.8h6v6h-6z" fill="#ffcfe5"/><path d="M673,51.8h6v6h-6z" fill="#00d3f6"/><path d="M679,51.8h6v6h-6z" fill="#00d3f6"/><path d="M685,51.8h6v6h-6z" fill="#00d3f6"/><path d="M691,51.8h6v6h-6z" fill="#00d3f6"/><path d="M697,51.8h6v6h-6z" fill="#00d3f6"/><path d="M703,51.8h6v6h-6z" fill="#00d3f5"/><path d="M709,51.8h6v6h-6z" fill="#0cd3f5"/><path d="M715,51.8h6v6h-6z" fill="#1fd3f4"/><path d="M721,51.8h6v6h-6z" fill="#30d3f3"/><path d="M727,51.8h6v6h-6z" fill="#40d3f3"/><path d="M733,51.8h6v6h-6z" fill="#50d3f2"/><path d="M739,51.8h6v6h-6z" fill="#60d3f1"/><path d="M745,51.8h6v6h-6z" fill="#70d3f1"/><path d="M751,51.8h6v6h-6z" fill="#7fd2f0"/><path d="M757,51.8h6v6h-6z" fill="#8ed1ef"/><path d="M763,51.8h6v6h-6z" fill="#9dd0ef"/><path d="M769,51.8h6v6h-6z" fill="#abcfee"/><path d="M775,51.8h6v6h-6z" fill="#bacfed"/><path d="M781,51.8h6v6h-6z" fill="#c8ceed"/><path d="M787,51.8h6v6h-6z" fill="#d6cdec"/><path d="M793,51.8h6v6h-6z" fill="#e5ccec"/><path d="M799,51.8h6v6h-6z" fill="#f3cbeb"/><path d="M805,51.8h6v6h-6z" fill="#ffcaea"/><path d="M811,51.8h6v6h-6z" fill="#ffcaea"/><path d="M817,51.8h6v6h-6z" fill="#ffcaea"/><path d="M673,57.8h6v6h-6z" fill="#00ccf8"/><path d="M679,57.8h6v6h-6z" fill="#00ccf8"/><path d="M685,57.8h6v6h-6z" fill="#00ccf8"/><path d="M691,57.8h6v6h-6z" fill="#00ccf8"/><path d="M697,57.8h6v6h-6z" fill="#00ccf8"/><path d="M703,57.8h6v6h-6z" fill="#00ccf8"/><path d="M709,57.8h6v6h-6z" fill="#0cccf7"/><path d="M715,57.8h6v6h-6z" fill="#1fccf7"/><path d="M721,57.8h6v6h-6z" fill="#30ccf6"/><path d="M727,57.8h6v6h-6z" fill="#40ccf6"/><path d="M733,57.8h6v6h-6z" fill="#50ccf5"/><path d="M739,57.8h6v6h-6z" fill="#60ccf5"/><path d="M745,57.8h6v6h-6z" fill="#70cbf5"/><path d="M751,57.8h6v6h-6z" fill="#7fcbf4"/><path d="M757,57.8h6v6h-6z" fill="#8ecaf4"/><path d="M763,57.8h6v6h-6z" fill="#9dc9f3"/><path d="M769,57.8h6v6h-6z" fill="#abc9f3"/><path d="M775,57.8h6v6h-6z" fill="#bac8f2"/><path d="M781,57.8h6v6h-6z" fill="#c8c7f2"/><path d="M787,57.8h6v6h-6z" fill="#d6c7f1"/><path d="M793,57.8h6v6h-6z" fill="#e5c6f1"/><path d="M799,57.8h6v6h-6z" fill="#f3c5f0"/><path d="M805,57.8h6v6h-6z" fill="#ffc4f0"/><path d="M811,57.8h6v6h-6z" fill="#ffc4f0"/><path d="M817,57.8h6v6h-6z" fill="#ffc4f0"/><path d="M673,63.8h6v6h-6z" fill="#00c4fb"/><path d="M679,63.8h6v6h-6z" fill="#00c4fb"/><path d="M685,63.8h6v6h-6z" fill="#00c4fb"/><path d="M691,63.8h6v6h-6z" fill="#00c4fb"/><path d="M697,63.8h6v6h-6z" fill="#00c4fb"/><path d="M703,63.8h6v6h-6z" fill="#00c4fa"/><path d="M709,63.8h6v6h-6z" fill="#0cc4fa"/><path d="M715,63.8h6v6h-6z" fill="#1fc4fa"/><path d="M721,63.8h6v6h-6z" fill="#30c4fa"/><path d="M727,63.8h6v6h-6z" fill="#40c4f9"/><path d="M733,63.8h6v6h-6z" fill="#50c3f9"/><path d="M739,63.8h6v6h-6z" fill="#60c3f9"/><path d="M745,63.8h6v6h-6z" fill="#70c3f8"/><path d="M751,63.8h6v6h-6z" fill="#7fc3f8"/><path d="M757,63.8h6v6h-6z" fill="#8ec2f8"/><path d="M763,63.8h6v6h-6z" fill="#9dc2f7"/><path d="M769,63.8h6v6h-6z" fill="#abc1f7"/><path d="M775,63.8h6v6h-6z" fill="#bac1f7"/><path d="M781,63.8h6v6h-6z" fill="#c8c0f6"/><path d="M787,63.8h6v6h-6z" fill="#d6c0f6"/><path d="M793,63.8h6v6h-6z" fill="#e5bff6"/><path d="M799,63.8h6v6h-6z" fill="#f3bff5"/><path d="M805,63.8h6v6h-6z" fill="#ffbef5"/><path d="M811,63.8h6v6h-6z" fill="#ffbef5"/><path d="M817,63.8h6v6h-6z" fill="#ffbdf5"/><path d="M673,69.8h6v6h-6z" fill="#00bbfd"/><path d="M679,69.8h6v6h-6z" fill="#00bbfd"/><path d="M685,69.8h6v6h-6z" fill="#00bbfd"/><path d="M691,69.8h6v6h-6z" fill="#00bbfd"/><path d="M697,69.8h6v6h-6z" fill="#00bbfd"/><path d="M703,69.8h6v6h-6z" fill="#00bbfd"/><path d="M709,69.8h6v6h-6z" fill="#0cbbfd"/><path d="M715,69.8h6v6h-6z" fill="#1fbbfd"/><path d="M721,69.8h6v6h-6z" fill="#30bbfd"/><path d="M727,69.8h6v6h-6z" fill="#40bbfc"/><path d="M733,69.8h6v6h-6z" fill="#50bbfc"/><path d="M739,69.8h6v6h-6z" fill="#60bbfc"/><path d="M745,69.8h6v6h-6z" fill="#70bbfc"/><path d="M751,69.8h6v6h-6z" fill="#7fbbfc"/><path d="M757,69.8h6v6h-6z" fill="#8ebafc"/><path d="M763,69.8h6v6h-6z" fill="#9dbafc"/><path d="M769,69.8h6v6h-6z" fill="#abbafb"/><path d="M775,69.8h6v6h-6z" fill="#babafb"/><path d="M781,69.8h6v6h-6z" fill="#c8b9fb"/><path d="M787,69.8h6v6h-6z" fill="#d6b9fb"/><path d="M793,69.8h6v6h-6z" fill="#e5b8fb"/><path d="M799,69.8h6v6h-6z" fill="#f3b8fb"/><path d="M805,69.8h6v6h-6z" fill="#ffb7fb"/><path d="M811,69.8h6v6h-6z" fill="#ffb6fb"/><path d="M817,69.8h6v6h-6z" fill="#ffb5fb"/><path d="M679,75.8h6v6h-6z" fill="#00b3ff"/><path d="M685,75.8h6v6h-6z" fill="#00b3ff"/><path d="M691,75.8h6v6h-6z" fill="#00b3ff"/><path d="M697,75.8h6v6h-6z" fill="#00b3ff"/><path d="M703,75.8h6v6h-6z" fill="#00b3ff"/><path d="M709,75.8h6v6h-6z" fill="#0cb3ff"/><path d="M715,75.8h6v6h-6z" fill="#1fb3ff"/><path d="M721,75.8h6v6h-6z" fill="#30b3ff"/><path d="M727,75.8h6v6h-6z" fill="#40b3ff"/><path d="M733,75.8h6v6h-6z" fill="#50b3ff"/><path d="M739,75.8h6v6h-6z" fill="#60b2ff"/><path d="M745,75.8h6v6h-6z" fill="#70b2ff"/><path d="M751,75.8h6v6h-6z" fill="#7fb2ff"/><path d="M757,75.8h6v6h-6z" fill="#8eb2ff"/><path d="M763,75.8h6v6h-6z" fill="#9db2ff"/><path d="M769,75.8h6v6h-6z" fill="#abb2ff"/><path d="M775,75.8h6v6h-6z" fill="#bab1ff"/><path d="M781,75.8h6v6h-6z" fill="#c8b1ff"/><path d="M787,75.8h6v6h-6z" fill="#d6b1ff"/><path d="M793,75.8h6v6h-6z" fill="#e5b0ff"/><path d="M799,75.8h6v6h-6z" fill="#f3afff"/><path d="M805,75.8h6v6h-6z" fill="#ffaeff"/><path d="M811,75.8h6v6h-6z" fill="#ffadff"/><path d="M817,75.8h6v6h-6z" fill="#ffacff"/><path d="M679,81.8h6v6h-6z" fill="#00aaff"/><path d="M685,81.8h6v6h-6z" fill="#00aaff"/><path d="M691,81.8h6v6h-6z" fill="#00aaff"/><path d="M697,81.8h6v6h-6z" fill="#00aaff"/><path d="M703,81.8h6v6h-6z" fill="#00aaff"/><path d="M709,81.8h6v6h-6z" fill="#0caaff"/><path d="M715,81.8h6v6h-6z" fill="#1faaff"/><path d="M721,81.8h6v6h-6z" fill="#30aaff"/><path d="M727,81.8h6v6h-6z" fill="#40aaff"/><path d="M733,81.8h6v6h-6z" fill="#50aaff"/><path d="M739,81.8h6v6h-6z" fill="#60a9ff"/><path d="M745,81.8h6v6h-6z" fill="#70a9ff"/><path d="M751,81.8h6v6h-6z" fill="#7fa9ff"/><path d="M757,81.8h6v6h-6z" fill="#8ea9ff"/><path d="M763,81.8h6v6h-6z" fill="#9da9ff"/><path d="M769,81.8h6v6h-6z" fill="#aba8ff"/><path d="M775,81.8h6v6h-6z" fill="#baa8ff"/><path d="M781,81.8h6v6h-6z" fill="#c8a7ff"/><path d="M787,81.8h6v6h-6z" fill="#d6a7ff"/><path d="M793,81.8h6v6h-6z" fill="#e5a6ff"/><path d="M799,81.8h6v6h-6z" fill="#f3a5ff"/><path d="M805,81.8h6v6h-6z" fill="#ffa3ff"/><path d="M811,81.8h6v6h-6z" fill="#ffa2ff"/><path d="M817,81.8h6v6h-6z" fill="#ff9fff"/><path d="M679,87.8h6v6h-6z" fill="#00a1ff"/><path d="M685,87.8h6v6h-6z" fill="#00a1ff"/><path d="M691,87.8h6v6h-6z" fill="#00a1ff"/><path d="M697,87.8h6v6h-6z" fill="#00a1ff"/><path d="M703,87.8h6v6h-6z" fill="#00a1ff"/><path d="M709,87.8h6v6h-6z" fill="#0ca1ff"/><path d="M715,87.8h6v6h-6z" fill="#1fa1ff"/><path d="M721,87.8h6v6h-6z" fill="#30a1ff"/><path d="M727,87.8h6v6h-6z" fill="#40a1ff"/><path d="M733,87.8h6v6h-6z" fill="#50a0ff"/><path d="M739,87.8h6v6h-6z" fill="#60a0ff"/><path d="M745,87.8h6v6h-6z" fill="#70a0ff"/><path d="M751,87.8h6v6h-6z" fill="#7fa0ff"/><path d="M757,87.8h6v6h-6z" fill="#8e9fff"/><path d="M763,87.8h6v6h-6z" fill="#9d9fff"/><path d="M769,87.8h6v6h-6z" fill="#ab9eff"/><path d="M775,87.8h6v6h-6z" fill="#ba9eff"/><path d="M781,87.8h6v6h-6z" fill="#c89dff"/><path d="M787,87.8h6v6h-6z" fill="#d69cff"/><path d="M793,87.8h6v6h-6z" fill="#e59aff"/><path d="M799,87.8h6v6h-6z" fill="#f399ff"/><path d="M805,87.8h6v6h-6z" fill="#ff97ff"/><path d="M811,87.8h6v6h-6z" fill="#ff94ff"/><path d="M817,87.8h6v6h-6z" fill="#ff91ff"/><path d="M685,93.8h6v6h-6z" fill="#0098ff"/><path d="M691,93.8h6v6h-6z" fill="#0098ff"/><path d="M697,93.8h6v6h-6z" fill="#0098ff"/><path d="M703,93.8h6v6h-6z" fill="#0098ff"/><path d="M709,93.8h6v6h-6z" fill="#0c98ff"/><path d="M715,93.8h6v6h-6z" fill="#1f98ff"/><path d="M721,93.8h6v6h-6z" fill="#3098ff"/><path d="M727,93.8h6v6h-6z" fill="#4098ff"/><path d="M733,93.8h6v6h-6z" fill="#5096ff"/><path d="M739,93.8h6v6h-6z" fill="#6096ff"/><path d="M745,93.8h6v6h-6z" fill="#7096ff"/><path d="M751,93.8h6v6h-6z" fill="#7f95ff"/><path d="M757,93.8h6v6h-6z" fill="#8e95ff"/><path d="M763,93.8h6v6h-6z" fill="#9d94ff"/><path d="M769,93.8h6v6h-6z" fill="#ab93ff"/><path d="M775,93.8h6v6h-6z" fill="#ba92ff"/><path d="M781,93.8h6v6h-6z" fill="#c891ff"/><path d="M787,93.8h6v6h-6z" fill="#d68fff"/><path d="M793,93.8h6v6h-6z" fill="#e58dff"/><path d="M799,93.8h6v6h-6z" fill="#f38bff"/><path d="M805,93.8h6v6h-6z" fill="#ff88ff"/><path d="M811,93.8h6v6h-6z" fill="#ff84ff"/><path d="M817,93.8h6v6h-6z" fill="#ff7fff"/><path d="M685,99.8h6v6h-6z" fill="#008eff"/><path d="M691,99.8h6v6h-6z" fill="#008eff"/><path d="M697,99.8h6v6h-6z" fill="#008eff"/><path d="M703,99.8h6v6h-6z" fill="#008eff"/><path d="M709,99.8h6v6h-6z" fill="#0c8eff"/><path d="M715,99.8h6v6h-6z" fill="#1f8eff"/><path d="M721,99.8h6v6h-6z" fill="#308eff"/><path d="M727,99.8h6v6h-6z" fill="#408eff"/><path d="M733,99.8h6v6h-6z" fill="#508cff"/><path d="M739,99.8h6v6h-6z" fill="#608cff"/><path d="M745,99.8h6v6h-6z" fill="#708bff"/><path d="M751,99.8h6v6h-6z" fill="#7f8aff"/><path d="M757,99.8h6v6h-6z" fill="#8e8aff"/><path d="M763,99.8h6v6h-6z" fill="#9d89ff"/><path d="M769,99.8h6v6h-6z" fill="#ab87ff"/><path d="M775,99.8h6v6h-6z" fill="#ba86ff"/><path d="M781,99.8h6v6h-6z" fill="#c884ff"/><path d="M787,99.8h6v6h-6z" fill="#d681ff"/><path d="M793,99.8h6v6h-6z" fill="#e57eff"/><path d="M799,99.8h6v6h-6z" fill="#f37bff"/><path d="M805,99.8h6v6h-6z" fill="#ff76ff"/><path d="M811,99.8h6v6h-6z" fill="#ff70ff"/><path d="M817,99.8h6v6h-6z" fill="#ff69ff"/><path d="M685,105.8h6v6h-6z" fill="#0083ff"/><path d="M691,105.8h6v6h-6z" fill="#0083ff"/><path d="M697,105.8h6v6h-6z" fill="#0083ff"/><path d="M703,105.8h6v6h-6z" fill="#0083ff"/><path d="M709,105.8h6v6h-6z" fill="#0c83ff"/><path d="M715,105.8h6v6h-6z" fill="#1f83ff"/><path d="M721,105.8h6v6h-6z" fill="#3083ff"/><path d="M727,105.8h6v6h-6z" fill="#4083ff"/><path d="M733,105.8h6v6h-6z" fill="#5081ff"/><path d="M739,105.8h6v6h-6z" fill="#6080ff"/><path d="M745,105.8h6v6h-6z" fill="#707fff"/><path d="M751,105.8h6v6h-6z" fill="#7f7fff"/><path d="M757,105.8h6v6h-6z" fill="#8e7dff"/><path d="M763,105.8h6v6h-6z" fill="#9d7cff"/><path d="M769,105.8h6v6h-6z" fill="#ab7aff"/><path d="M775,105.8h6v6h-6z" fill="#ba78ff"/><path d="M781,105.8h6v6h-6z" fill="#c875ff"/><path d="M787,105.8h6v6h-6z" fill="#d671ff"/><path d="M793,105.8h6v6h-6z" fill="#e56dff"/><path d="M799,105.8h6v6h-6z" fill="#f367ff"/><path d="M805,105.8h6v6h-6z" fill="#ff60ff"/><path d="M811,105.8h6v6h-6z" fill="#ff57ff"/><path d="M817,105.8h6v6h-6z" fill="#ff4cff"/><path d="M691,111.8h6v6h-6z" fill="#0078ff"/><path d="M697,111.8h6v6h-6z" fill="#0078ff"/><path d="M703,111.8h6v6h-6z" fill="#0078ff"/><path d="M709,111.8h6v6h-6z" fill="#0c78ff"/><path d="M715,111.8h6v6h-6z" fill="#1f78ff"/><path d="M721,111.8h6v6h-6z" fill="#3078ff"/><path d="M727,111.8h6v6h-6z" fill="#4078ff"/><path d="M733,111.8h6v6h-6z" fill="#5075ff"/><path d="M739,111.8h6v6h-6z" fill="#6074ff"/><path d="M745,111.8h6v6h-6z" fill="#7073ff"/><path d="M751,111.8h6v6h-6z" fill="#7f71ff"/><path d="M757,111.8h6v6h-6z" fill="#8e70ff"/><path d="M763,111.8h6v6h-6z" fill="#9d6dff"/><path d="M769,111.8h6v6h-6z" fill="#ab6bff"/><path d="M775,111.8h6v6h-6z" fill="#ba67ff"/><path d="M781,111.8h6v6h-6z" fill="#c863ff"/><path d="M787,111.8h6v6h-6z" fill="#d65eff"/><path d="M793,111.8h6v6h-6z" fill="#e557ff"/><path d="M799,111.8h6v6h-6z" fill="#f34fff"/><path d="M805,111.8h6v6h-6z" fill="#ff44ff"/><path d="M811,111.8h6v6h-6z" fill="#ff3cff"/><path d="M817,111.8h6v6h-6z" fill="#ff3cff"/><path d="M691,117.8h6v6h-6z" fill="#006dff"/><path d="M697,117.8h6v6h-6z" fill="#006dff"/><path d="M703,117.8h6v6h-6z" fill="#006dff"/><path d="M709,117.8h6v6h-6z" fill="#0c6dff"/><path d="M715,117.8h6v6h-6z" fill="#1f6dff"/><path d="M721,117.8h6v6h-6z" fill="#306dff"/><path d="M727,117.8h6v6h-6z" fill="#406dff"/><path d="M733,117.8h6v6h-6z" fill="#5067ff"/><path d="M739,117.8h6v6h-6z" fill="#6066ff"/><path d="M745,117.8h6v6h-6z" fill="#7065ff"/><path d="M751,117.8h6v6h-6z" fill="#7f62ff"/><path d="M757,117.8h6v6h-6z" fill="#8e60ff"/><path d="M763,117.8h6v6h-6z" fill="#9d5dff"/><path d="M769,117.8h6v6h-6z" fill="#ab59ff"/><path d="M775,117.8h6v6h-6z" fill="#ba54ff"/><path d="M781,117.8h6v6h-6z" fill="#c84dff"/><path d="M787,117.8h6v6h-6z" fill="#d646ff"/><path d="M793,117.8h6v6h-6z" fill="#e53cff"/><path d="M799,117.8h6v6h-6z" fill="#f336ff"/><path d="M805,117.8h6v6h-6z" fill="#ff36ff"/><path d="M811,117.8h6v6h-6z" fill="#ff36ff"/><path d="M817,117.8h6v6h-6z" fill="#ff36ff"/><path d="M691,123.8h6v6h-6z" fill="#0060ff"/><path d="M697,123.8h6v6h-6z" fill="#0060ff"/><path d="M703,123.8h6v6h-6z" fill="#0060ff"/><path d="M709,123.8h6v6h-6z" fill="#0c60ff"/><path d="M715,123.8h6v6h-6z" fill="#1f60ff"/><path d="M721,123.8h6v6h-6z" fill="#3060ff"/><path d="M727,123.8h6v6h-6z" fill="#4060ff"/><path d="M733,123.8h6v6h-6z" fill="#5059ff"/><path d="M739,123.8h6v6h-6z" fill="#6057ff"/><path d="M745,123.8h6v6h-6z" fill="#7054ff"/><path d="M751,123.8h6v6h-6z" fill="#7f52ff"/><path d="M757,123.8h6v6h-6z" fill="#8e4eff"/><path d="M763,123.8h6v6h-6z" fill="#9d49ff"/><path d="M769,123.8h6v6h-6z" fill="#ab44ff"/><path d="M775,123.8h6v6h-6z" fill="#ba3dff"/><path d="M781,123.8h6v6h-6z" fill="#c834ff"/><path d="M787,123.8h6v6h-6z" fill="#d630ff"/><path d="M793,123.8h6v6h-6z" fill="#e530ff"/><path d="M799,123.8h6v6h-6z" fill="#f330ff"/><path d="M805,123.8h6v6h-6z" fill="#ff30ff"/><path d="M811,123.8h6v6h-6z" fill="#ff30ff"/><path d="M817,123.8h6v6h-6z" fill="#ff30ff"/><path d="M697,129.8h6v6h-6z" fill="#0053ff"/><path d="M703,129.8h6v6h-6z" fill="#0053ff"/><path d="M709,129.8h6v6h-6z" fill="#0c53ff"/><path d="M715,129.8h6v6h-6z" fill="#1f53ff"/><path d="M721,129.8h6v6h-6z" fill="#3053ff"/><path d="M727,129.8h6v6h-6z" fill="#4053ff"/><path d="M733,129.8h6v6h-6z" fill="#5048ff"/><path d="M739,129.8h6v6h-6z" fill="#6046ff"/><path d="M745,129.8h6v6h-6z" fill="#7042ff"/><path d="M751,129.8h6v6h-6z" fill="#7f3eff"/><path d="M757,129.8h6v6h-6z" fill="#8e39ff"/><path d="M763,129.8h6v6h-6z" fill="#9d33ff"/><path d="M769,129.8h6v6h-6z" fill="#ab2bff"/><path d="M775,129.8h6v6h-6z" fill="#ba29ff"/><path d="M781,129.8h6v6h-6z" fill="#c829ff"/><path d="M787,129.8h6v6h-6z" fill="#d629ff"/><path d="M793,129.8h6v6h-6z" fill="#e529ff"/><path d="M799,129.8h6v6h-6z" fill="#f329ff"/><path d="M805,129.8h6v6h-6z" fill="#ff29ff"/><path d="M697,135.8h6v6h-6z" fill="#0043ff"/><path d="M703,135.8h6v6h-6z" fill="#0043ff"/><path d="M709,135.8h6v6h-6z" fill="#0c43ff"/><path d="M715,135.8h6v6h-6z" fill="#1f43ff"/><path d="M721,135.8h6v6h-6z" fill="#3043ff"/><path d="M727,135.8h6v6h-6z" fill="#4043ff"/><path d="M733,135.8h6v6h-6z" fill="#5035ff"/><path d="M739,135.8h6v6h-6z" fill="#6032ff"/><path d="M745,135.8h6v6h-6z" fill="#702eff"/><path d="M751,135.8h6v6h-6z" fill="#7f29ff"/><path d="M757,135.8h6v6h-6z" fill="#8e22ff"/><path d="M763,135.8h6v6h-6z" fill="#9d22ff"/><path d="M769,135.8h6v6h-6z" fill="#ab22ff"/><path d="M775,135.8h6v6h-6z" fill="#ba22ff"/><path d="M781,135.8h6v6h-6z" fill="#c822ff"/><path d="M787,135.8h6v6h-6z" fill="#d622ff"/><path d="M793,135.8h6v6h-6z" fill="#e522ff"/><path d="M703,141.8h6v6h-6z" fill="#0031ff"/><path d="M709,141.8h6v6h-6z" fill="#0c31ff"/><path d="M715,141.8h6v6h-6z" fill="#1f31ff"/><path d="M721,141.8h6v6h-6z" fill="#3031ff"/><path d="M727,141.8h6v6h-6z" fill="#4031ff"/><path d="M733,141.8h6v6h-6z" fill="#5021ff"/><path d="M739,141.8h6v6h-6z" fill="#601dff"/><path d="M745,141.8h6v6h-6z" fill="#7018ff"/><path d="M751,141.8h6v6h-6z" fill="#7f18ff"/><path d="M757,141.8h6v6h-6z" fill="#8e18ff"/><path d="M763,141.8h6v6h-6z" fill="#9d18ff"/><path d="M769,141.8h6v6h-6z" fill="#ab18ff"/><path d="M775,141.8h6v6h-6z" fill="#ba18ff"/><path d="M781,141.8h6v6h-6z" fill="#c818ff"/><path d="M709,147.8h6v6h-6z" fill="#0c24ff"/><path d="M715,147.8h6v6h-6z" fill="#1f24ff"/><path d="M721,147.8h6v6h-6z" fill="#3024ff"/><path d="M727,147.8h6v6h-6z" fill="#4024ff"/><path d="M733,147.8h6v6h-6z" fill="#5014ff"/><path d="M739,147.8h6v6h-6z" fill="#6012ff"/><path d="M745,147.8h6v6h-6z" fill="#7012ff"/><path d="M751,147.8h6v6h-6z" fill="#7f12ff"/><path d="M757,147.8h6v6h-6z" fill="#8e12ff"/><path d="M763,147.8h6v6h-6z" fill="#9d12ff"/><path d="M769,147.8h6v6h-6z" fill="#ab12ff"/><path d="M715,153.8h6v6h-6z" fill="#1f24ff"/><path d="M721,153.8h6v6h-6z" fill="#3024ff"/><path d="M727,153.8h6v6h-6z" fill="#4024ff"/><path d="M733,153.8h6v6h-6z" fill="#5014ff"/><path d="M739,153.8h6v6h-6z" fill="#6012ff"/><path d="M745,153.8h6v6h-6z" fill="#7012ff"/><path d="M751,153.8h6v6h-6z" fill="#7f12ff"/>
</g></g>
<path d="M733.42,151.3L733.41,151.3L733.4,151.31L733.38,151.31L733.35,151.32L733.33,151.33L733.3,151.34L733.27,151.34L733.24,151.35L733.21,151.36L733.18,151.36L733.14,151.37L733.11,151.38L733.07,151.38L733.03,151.39L732.99,151.39L732.95,151.39L732.9,151.39L732.84,151.38L732.78,151.38L732.71,151.37L732.63,151.35L732.54,151.33L732.46,151.31L732.37,151.29L732.29,151.25L732.21,151.22L732.14,151.18L732.07,151.13L732,151.09L731.92,151.03L731.85,150.98L731.77,150.92L731.69,150.85L731.6,150.78L731.51,150.71L731.41,150.63L731.3,150.55L731.19,150.46L731.07,150.36L730.94,150.25L730.81,150.14L730.67,150.02L730.52,149.89L730.37,149.76L730.22,149.62L730.06,149.47L729.9,149.32L729.73,149.16L729.55,149L729.37,148.83L729.18,148.66L728.97,148.48L728.76,148.29L728.54,148.09L728.31,147.89L728.06,147.67L727.79,147.44L727.52,147.2L727.23,146.95L726.92,146.69L726.61,146.41L726.28,146.13L725.95,145.84L725.6,145.54L725.24,145.22L724.87,144.9L724.49,144.55L724.09,144.19L723.68,143.8L723.24,143.39L722.79,142.96L722.33,142.5L721.85,142.02L721.36,141.51L720.86,140.98L720.35,140.43L719.82,139.85L719.27,139.22L718.7,138.54L718.11,137.79L717.48,136.97L716.82,136.07L716.13,135.07L715.4,133.97L714.63,132.78L713.84,131.48L713.01,130.09L712.15,128.58L711.25,126.96L710.33,125.21L709.37,123.33L708.37,121.29L707.34,119.1L706.27,116.73L705.17,114.17L704.02,111.42L702.83,108.47L701.58,105.3L700.29,101.93L698.94,98.32L697.53,94.49L696.07,90.41L694.57,86.08L693.03,81.48L691.47,76.61L689.9,71.45L688.32,66L686.75,60.25L685.17,54.21L683.61,47.88L682.05,41.29L680.5,34.43L678.97,27.31L677.45,19.94L675.95,12.33L674.46,4.49L673.01,-3.57L671.57,-11.86L670.17,-20.35" stroke="#000" stroke-width="1.3" fill="none"/>
<path d="M733.42,151.3L812.2,114.63" stroke="#000" stroke-width="1.3" fill="none"/>
<path d="M731.24,150.5L728.4,153.99M730.4,149.78L728.26,152.16M729.35,148.81L726.32,152.14M727.96,147.59L725.86,150.01M726.07,145.95L723.12,149.35M723.72,143.84L721.53,146.18M720.78,140.9L717.5,143.98M717.21,136.6L714.63,138.49M712.42,129.07L708.51,131.29M706.33,116.86L703.41,118.15M698.65,97.53L694.42,99.09M689.15,68.91L686.08,69.8M679.37,29.21L674.97,30.14M670.17,-20.35L667.01,-19.84" stroke="#000" stroke-width="1" fill="none"/>
<path d="M723.3,21.8V153.4M660.3,111.3H810.2" stroke="#0a0a78" stroke-width="1.25" stroke-dasharray="3.2 2.8" fill="none"/>
<path d="M756.1,56.9L785.8,21.5M751.8,53.1L760.5,60.5M772.4,21.5L789.6,50.7M779.2,22L783.2,30.5M782.6,22L785.6,28M786.5,22L788.2,25.5M796.6,21.5L797.5,35.7" stroke="#000" stroke-width="1.1" fill="none"/>
<text x="746.1" y="52.4" font-size="14.8" text-anchor="middle" fill="#000" style="font-family:'Liberation Serif',serif" >∞</text>
</g>
<text x="660.3" y="41.6" font-size="13.8" text-anchor="start" fill="#2420f0" style="font-family:'Liberation Serif','Times New Roman',serif" >490</text>
<text x="671.2" y="104.2" font-size="13.8" text-anchor="start" fill="#2420f0" style="font-family:'Liberation Serif','Times New Roman',serif" >480</text>
<text x="685" y="135.7" font-size="13.8" text-anchor="start" fill="#2420f0" style="font-family:'Liberation Serif','Times New Roman',serif" >470</text>
<text x="692.4" y="151.4" font-size="13.8" text-anchor="start" fill="#2420f0" style="font-family:'Liberation Serif','Times New Roman',serif" >460</text>
<text x="739.6" y="158.2" font-size="13.8" text-anchor="start" fill="#2420f0" style="font-family:'Liberation Serif','Times New Roman',serif" >380</text>
<circle cx="722" cy="111.3" r="1.5" fill="#222" stroke="#f0b0b0" stroke-width="0.7"/>
<circle cx="725.1" cy="113.2" r="1.5" fill="#222" stroke="#f0b0b0" stroke-width="0.7"/>
<circle cx="721" cy="116.7" r="1.5" fill="#222" stroke="#f0b0b0" stroke-width="0.7"/>
<text x="708.4" y="107.9" font-size="10.6" text-anchor="start" font-weight="bold" fill="#fff" >ODBN</text>
<text x="727.8" y="119.4" font-size="10.6" text-anchor="start" font-weight="bold" fill="#fff" >OBN</text>
<text x="712.1" y="128.2" font-size="10.6" text-anchor="start" font-weight="bold" fill="#fff" >NBN</text>
<path d="M660.3,21.8V153.4H810.2" stroke="#555" stroke-width="1" fill="none"/>
<text x="655.3" y="158.9" font-size="12" text-anchor="end" fill="#000" >0.0</text>
<text x="655.3" y="116.8" font-size="12" text-anchor="end" fill="#000" >0.1</text>
<text x="655.3" y="74.7" font-size="12" text-anchor="end" fill="#000" >0.2</text>
<text x="655.3" y="32.6" font-size="12" text-anchor="end" fill="#000" >0.3</text>
<text x="702.3" y="167.4" font-size="12" text-anchor="middle" fill="#000" >0.1</text>
<text x="744.3" y="167.4" font-size="12" text-anchor="middle" fill="#000" >0.2</text>
<text x="786.3" y="167.4" font-size="12" text-anchor="middle" fill="#000" >0.3</text>
<path d="M660.3,153.4h-3.5M660.3,111.3h-3.5M660.3,69.2h-3.5M660.3,27.1h-3.5M702.3,153.4v3.5M744.3,153.4v3.5M786.3,153.4v3.5" stroke="#555" stroke-width="1" fill="none"/>
<text x="632.6" y="90" font-size="13.3" text-anchor="middle" fill="#000" transform="rotate(-90 632.6 90)" >CIE y</text>
<text x="733.5" y="181" font-size="13.3" text-anchor="middle" fill="#000" >CIE x</text>
<line x1="719.7" y1="202.2" x2="747.8" y2="202.2" stroke="#505050" stroke-width="1.5" />
<text x="755" y="207.2" font-size="14" text-anchor="start" font-weight="bold" fill="#000" >OBN</text>
<line x1="719.7" y1="220.2" x2="747.8" y2="220.2" stroke="#089fea" stroke-width="1.5" />
<text x="755" y="225.2" font-size="14" text-anchor="start" font-weight="bold" fill="#000" >NBN</text>
<line x1="719.7" y1="238.1" x2="747.8" y2="238.1" stroke="#ff0a0a" stroke-width="1.5" />
<text x="755" y="243.1" font-size="14" text-anchor="start" font-weight="bold" fill="#000" >ODBN</text>
<rect x="504.8" y="19.5" width="311.2" height="249.7" fill="none" stroke="#000" stroke-width="1.55"/>
<text x="494.3" y="262.5" font-size="13.5" text-anchor="end" fill="#000" >0.0</text>
<text x="494.3" y="217.24" font-size="13.5" text-anchor="end" fill="#000" >0.2</text>
<text x="494.3" y="171.98" font-size="13.5" text-anchor="end" fill="#000" >0.4</text>
<text x="494.3" y="126.72" font-size="13.5" text-anchor="end" fill="#000" >0.6</text>
<text x="494.3" y="81.46" font-size="13.5" text-anchor="end" fill="#000" >0.8</text>
<text x="494.3" y="36.2" font-size="13.5" text-anchor="end" fill="#000" >1.0</text>
<text x="528.02" y="289" font-size="13.5" text-anchor="middle" fill="#000" >400</text>
<text x="585.33" y="289" font-size="13.5" text-anchor="middle" fill="#000" >450</text>
<text x="642.64" y="289" font-size="13.5" text-anchor="middle" fill="#000" >500</text>
<text x="699.95" y="289" font-size="13.5" text-anchor="middle" fill="#000" >550</text>
<text x="757.26" y="289" font-size="13.5" text-anchor="middle" fill="#000" >600</text>
<text x="814.57" y="289" font-size="13.5" text-anchor="middle" fill="#000" >650</text>
<path d="M504.8,257.8L499.8,257.8M504.8,235.17L501.8,235.17M504.8,212.54L499.8,212.54M504.8,189.91L501.8,189.91M504.8,167.28L499.8,167.28M504.8,144.65L501.8,144.65M504.8,122.02L499.8,122.02M504.8,99.39L501.8,99.39M504.8,76.76L499.8,76.76M504.8,54.13L501.8,54.13M504.8,31.5L499.8,31.5M528.02,269.2L528.02,274.2M556.68,269.2L556.68,272.2M585.33,269.2L585.33,274.2M613.99,269.2L613.99,272.2M642.64,269.2L642.64,274.2M671.3,269.2L671.3,272.2M699.95,269.2L699.95,274.2M728.61,269.2L728.61,272.2M757.26,269.2L757.26,274.2M785.92,269.2L785.92,272.2M814.57,269.2L814.57,274.2" stroke="#000" stroke-width="1.55" fill="none"/>
<text x="466.5" y="145" font-size="14" text-anchor="middle" fill="#000" transform="rotate(-90 466.5 145)" >EL Intensity (a.u.)</text>
<text x="661.5" y="308.5" font-size="14" text-anchor="middle" fill="#000" >Wavelength (nm)</text>
</g>
<g id="panel-c">
<ellipse cx="208.3" cy="417.5" rx="14.2" ry="31" fill="none" stroke="#000" stroke-width="1.35" stroke-dasharray="2.5 2.1"/>
<path d="M208.3,386.5H159.2" stroke="#000" stroke-width="1.2" fill="none"/>
<path d="M166.2,383.5L158.9,386.5L166.2,389.5" stroke="#000" stroke-width="1.2" fill="none"/>
<ellipse cx="243.6" cy="476.2" rx="14.2" ry="31.5" fill="none" stroke="#000" stroke-width="1.35" stroke-dasharray="2.5 2.1"/>
<path d="M243.6,507.8H294" stroke="#000" stroke-width="1.2" fill="none"/>
<path d="M287.2,504.8L294.5,507.8L287.2,510.8" stroke="#000" stroke-width="1.2" fill="none"/>
<path d="M86.3,577.9L112.1,551.2L137.9,530.1L163.9,513.3L190,499.3L215.8,487.3L241.2,477L267.3,467.4L293.1,458.9L319.2,451.7L344.7,445.1" stroke="#505050" stroke-width="1.5" fill="none" stroke-linejoin="round"/>
<rect x="83.8" y="575.4" width="5" height="5" fill="#fff" stroke="#505050" stroke-width="1.2"/><rect x="109.6" y="548.7" width="5" height="5" fill="#fff" stroke="#505050" stroke-width="1.2"/><rect x="135.4" y="527.6" width="5" height="5" fill="#fff" stroke="#505050" stroke-width="1.2"/><rect x="161.4" y="510.8" width="5" height="5" fill="#fff" stroke="#505050" stroke-width="1.2"/><rect x="187.5" y="496.8" width="5" height="5" fill="#fff" stroke="#505050" stroke-width="1.2"/><rect x="213.3" y="484.8" width="5" height="5" fill="#fff" stroke="#505050" stroke-width="1.2"/><rect x="238.7" y="474.5" width="5" height="5" fill="#fff" stroke="#505050" stroke-width="1.2"/><rect x="264.8" y="464.9" width="5" height="5" fill="#fff" stroke="#505050" stroke-width="1.2"/><rect x="290.6" y="456.4" width="5" height="5" fill="#fff" stroke="#505050" stroke-width="1.2"/><rect x="316.7" y="449.2" width="5" height="5" fill="#fff" stroke="#505050" stroke-width="1.2"/><rect x="342.2" y="442.6" width="5" height="5" fill="#fff" stroke="#505050" stroke-width="1.2"/>
<path d="M96.8,573.9L122.6,549.4L148.6,530.6L174.4,514.3L200.2,500.8L225.8,489L251.9,478.6L277.4,469.3L303.5,459.7L329.3,448L355.4,435.2" stroke="#089fea" stroke-width="1.5" fill="none" stroke-linejoin="round"/>
<circle cx="96.8" cy="573.9" r="2.95" fill="#fff" stroke="#089fea" stroke-width="1.2"/><circle cx="122.6" cy="549.4" r="2.95" fill="#fff" stroke="#089fea" stroke-width="1.2"/><circle cx="148.6" cy="530.6" r="2.95" fill="#fff" stroke="#089fea" stroke-width="1.2"/><circle cx="174.4" cy="514.3" r="2.95" fill="#fff" stroke="#089fea" stroke-width="1.2"/><circle cx="200.2" cy="500.8" r="2.95" fill="#fff" stroke="#089fea" stroke-width="1.2"/><circle cx="225.8" cy="489" r="2.95" fill="#fff" stroke="#089fea" stroke-width="1.2"/><circle cx="251.9" cy="478.6" r="2.95" fill="#fff" stroke="#089fea" stroke-width="1.2"/><circle cx="277.4" cy="469.3" r="2.95" fill="#fff" stroke="#089fea" stroke-width="1.2"/><circle cx="303.5" cy="459.7" r="2.95" fill="#fff" stroke="#089fea" stroke-width="1.2"/><circle cx="329.3" cy="448" r="2.95" fill="#fff" stroke="#089fea" stroke-width="1.2"/><circle cx="355.4" cy="435.2" r="2.95" fill="#fff" stroke="#089fea" stroke-width="1.2"/>
<path d="M78.8,580.7L104.6,546.9L130.4,524.4L156.2,507.1L182.2,493.8L208,482L233.8,470.9L259.9,461L285.4,448.8L311.5,434.2" stroke="#ff0a0a" stroke-width="1.5" fill="none" stroke-linejoin="round"/>
<path d="M75.2,580.7L78.8,577.1L82.4,580.7L78.8,584.3Z" fill="#fff" stroke="#ff0a0a" stroke-width="1.2"/><path d="M101,546.9L104.6,543.3L108.2,546.9L104.6,550.5Z" fill="#fff" stroke="#ff0a0a" stroke-width="1.2"/><path d="M126.8,524.4L130.4,520.8L134,524.4L130.4,528Z" fill="#fff" stroke="#ff0a0a" stroke-width="1.2"/><path d="M152.6,507.1L156.2,503.5L159.8,507.1L156.2,510.7Z" fill="#fff" stroke="#ff0a0a" stroke-width="1.2"/><path d="M178.6,493.8L182.2,490.2L185.8,493.8L182.2,497.4Z" fill="#fff" stroke="#ff0a0a" stroke-width="1.2"/><path d="M204.4,482L208,478.4L211.6,482L208,485.6Z" fill="#fff" stroke="#ff0a0a" stroke-width="1.2"/><path d="M230.2,470.9L233.8,467.3L237.4,470.9L233.8,474.5Z" fill="#fff" stroke="#ff0a0a" stroke-width="1.2"/><path d="M256.3,461L259.9,457.4L263.5,461L259.9,464.6Z" fill="#fff" stroke="#ff0a0a" stroke-width="1.2"/><path d="M281.8,448.8L285.4,445.2L289,448.8L285.4,452.4Z" fill="#fff" stroke="#ff0a0a" stroke-width="1.2"/><path d="M307.9,434.2L311.5,430.6L315.1,434.2L311.5,437.8Z" fill="#fff" stroke="#ff0a0a" stroke-width="1.2"/>
<path d="M86.3,552.9L112.1,511.6L137.9,481.8L163.8,459L190,440.9L216,426.4L241.2,414.2L267.3,403.8L293.1,395.1L319.2,387.6L344.7,381.5" stroke="#505050" stroke-width="1.5" fill="none" stroke-linejoin="round"/>
<rect x="83.2" y="549.8" width="6.2" height="6.2" fill="#505050"/><rect x="109" y="508.5" width="6.2" height="6.2" fill="#505050"/><rect x="134.8" y="478.7" width="6.2" height="6.2" fill="#505050"/><rect x="160.7" y="455.9" width="6.2" height="6.2" fill="#505050"/><rect x="186.9" y="437.8" width="6.2" height="6.2" fill="#505050"/><rect x="212.9" y="423.3" width="6.2" height="6.2" fill="#505050"/><rect x="238.1" y="411.1" width="6.2" height="6.2" fill="#505050"/><rect x="264.2" y="400.7" width="6.2" height="6.2" fill="#505050"/><rect x="290" y="392" width="6.2" height="6.2" fill="#505050"/><rect x="316.1" y="384.5" width="6.2" height="6.2" fill="#505050"/><rect x="341.6" y="378.4" width="6.2" height="6.2" fill="#505050"/>
<path d="M96.8,542.6L122.6,503.1L148.6,472.3L174.3,448L200.2,428.8L225.8,413.7L251.9,401.7L277.4,391.3L303.5,381.2L329.3,371.1L355.4,360.5" stroke="#089fea" stroke-width="1.5" fill="none" stroke-linejoin="round"/>
<circle cx="96.8" cy="542.6" r="3.55" fill="#089fea"/><circle cx="122.6" cy="503.1" r="3.55" fill="#089fea"/><circle cx="148.6" cy="472.3" r="3.55" fill="#089fea"/><circle cx="174.3" cy="448" r="3.55" fill="#089fea"/><circle cx="200.2" cy="428.8" r="3.55" fill="#089fea"/><circle cx="225.8" cy="413.7" r="3.55" fill="#089fea"/><circle cx="251.9" cy="401.7" r="3.55" fill="#089fea"/><circle cx="277.4" cy="391.3" r="3.55" fill="#089fea"/><circle cx="303.5" cy="381.2" r="3.55" fill="#089fea"/><circle cx="329.3" cy="371.1" r="3.55" fill="#089fea"/><circle cx="355.4" cy="360.5" r="3.55" fill="#089fea"/>
<path d="M78.8,552.4L104.6,498.3L130.5,462L156.2,436.6L182.2,418.3L208,403.4L233.8,390L259.9,378.3L285.4,366.6L311.5,357" stroke="#ff0a0a" stroke-width="1.5" fill="none" stroke-linejoin="round"/>
<path d="M74.4,552.4L78.8,548L83.2,552.4L78.8,556.8Z" fill="#ff0a0a"/><path d="M100.2,498.3L104.6,493.9L109,498.3L104.6,502.7Z" fill="#ff0a0a"/><path d="M126.1,462L130.5,457.6L134.9,462L130.5,466.4Z" fill="#ff0a0a"/><path d="M151.8,436.6L156.2,432.2L160.6,436.6L156.2,441Z" fill="#ff0a0a"/><path d="M177.8,418.3L182.2,413.9L186.6,418.3L182.2,422.7Z" fill="#ff0a0a"/><path d="M203.6,403.4L208,399L212.4,403.4L208,407.8Z" fill="#ff0a0a"/><path d="M229.4,390L233.8,385.6L238.2,390L233.8,394.4Z" fill="#ff0a0a"/><path d="M255.5,378.3L259.9,373.9L264.3,378.3L259.9,382.7Z" fill="#ff0a0a"/><path d="M281,366.6L285.4,362.2L289.8,366.6L285.4,371Z" fill="#ff0a0a"/><path d="M307.1,357L311.5,352.6L315.9,357L311.5,361.4Z" fill="#ff0a0a"/>
<line x1="70.6" y1="367.4" x2="100.3" y2="367.4" stroke="#505050" stroke-width="1.4" />
<rect x="82.5" y="364.1" width="6.6" height="6.6" fill="#505050"/>
<text x="102.8" y="373.1" font-size="13.8" text-anchor="start" font-weight="bold" fill="#000" >OBN</text>
<line x1="70.6" y1="387.6" x2="100.3" y2="387.6" stroke="#089fea" stroke-width="1.4" />
<circle cx="85.8" cy="387.6" r="4.2" fill="#089fea"/>
<text x="102.8" y="393.3" font-size="13.8" text-anchor="start" font-weight="bold" fill="#000" >NBN</text>
<line x1="70.6" y1="408.2" x2="100.3" y2="408.2" stroke="#ff0a0a" stroke-width="1.4" />
<path d="M80.3,408.2L85.8,402.7L91.3,408.2L85.8,413.7Z" fill="#ff0a0a"/>
<text x="102.8" y="413.9" font-size="13.8" text-anchor="start" font-weight="bold" fill="#000" >ODBN</text>
<rect x="58.0" y="350.35" width="310.5" height="249.05" fill="none" stroke="#000" stroke-width="1.55"/>
<text x="83.5" y="619.5" font-size="13.5" text-anchor="middle" fill="#000" >4</text>
<text x="135.3" y="619.5" font-size="13.5" text-anchor="middle" fill="#000" >6</text>
<text x="187.1" y="619.5" font-size="13.5" text-anchor="middle" fill="#000" >8</text>
<text x="238.9" y="619.5" font-size="13.5" text-anchor="middle" fill="#000" >10</text>
<text x="290.7" y="619.5" font-size="13.5" text-anchor="middle" fill="#000" >12</text>
<text x="342.5" y="619.5" font-size="13.5" text-anchor="middle" fill="#000" >14</text>
<text x="49.5" y="603.9" font-size="13.5" text-anchor="end" fill="#000" >10<tspan font-size="7.96" dy="-5.8">-1</tspan></text>
<text x="49.5" y="548.45" font-size="13.5" text-anchor="end" fill="#000" >10<tspan font-size="7.96" dy="-5.8">0</tspan></text>
<text x="49.5" y="493" font-size="13.5" text-anchor="end" fill="#000" >10<tspan font-size="7.96" dy="-5.8">1</tspan></text>
<text x="49.5" y="437.55" font-size="13.5" text-anchor="end" fill="#000" >10<tspan font-size="7.96" dy="-5.8">2</tspan></text>
<text x="49.5" y="382.1" font-size="13.5" text-anchor="end" fill="#000" >10<tspan font-size="7.96" dy="-5.8">3</tspan></text>
<text x="376.1" y="580.6" font-size="13.5" text-anchor="start" fill="#000" >10<tspan font-size="7.96" dy="-5.8">-2</tspan></text>
<text x="376.1" y="546.95" font-size="13.5" text-anchor="start" fill="#000" >10<tspan font-size="7.96" dy="-5.8">-1</tspan></text>
<text x="376.1" y="513.3" font-size="13.5" text-anchor="start" fill="#000" >10<tspan font-size="7.96" dy="-5.8">0</tspan></text>
<text x="376.1" y="479.65" font-size="13.5" text-anchor="start" fill="#000" >10<tspan font-size="7.96" dy="-5.8">1</tspan></text>
<text x="376.1" y="446" font-size="13.5" text-anchor="start" fill="#000" >10<tspan font-size="7.96" dy="-5.8">2</tspan></text>
<text x="376.1" y="412.35" font-size="13.5" text-anchor="start" fill="#000" >10<tspan font-size="7.96" dy="-5.8">3</tspan></text>
<text x="376.1" y="378.7" font-size="13.5" text-anchor="start" fill="#000" >10<tspan font-size="7.96" dy="-5.8">4</tspan></text>
<path d="M57.6,599.4L57.6,602.4M83.5,599.4L83.5,604.4M109.4,599.4L109.4,602.4M135.3,599.4L135.3,604.4M161.2,599.4L161.2,602.4M187.1,599.4L187.1,604.4M213,599.4L213,602.4M238.9,599.4L238.9,604.4M264.8,599.4L264.8,602.4M290.7,599.4L290.7,604.4M316.6,599.4L316.6,602.4M342.5,599.4L342.5,604.4M368.4,599.4L368.4,602.4M58,598.9L53,598.9M58,582.21L55,582.21M58,572.44L55,572.44M58,565.52L55,565.52M58,560.14L55,560.14M58,555.75L55,555.75M58,552.04L55,552.04M58,548.82L55,548.82M58,545.99L55,545.99M58,543.45L53,543.45M58,526.76L55,526.76M58,516.99L55,516.99M58,510.07L55,510.07M58,504.69L55,504.69M58,500.3L55,500.3M58,496.59L55,496.59M58,493.37L55,493.37M58,490.54L55,490.54M58,488L53,488M58,471.31L55,471.31M58,461.54L55,461.54M58,454.62L55,454.62M58,449.24L55,449.24M58,444.85L55,444.85M58,441.14L55,441.14M58,437.92L55,437.92M58,435.09L55,435.09M58,432.55L53,432.55M58,415.86L55,415.86M58,406.09L55,406.09M58,399.17L55,399.17M58,393.79L55,393.79M58,389.4L55,389.4M58,385.69L55,385.69M58,382.47L55,382.47M58,379.64L55,379.64M58,377.1L53,377.1M58,360.41L55,360.41M58,350.64L55,350.64M368.5,599.12L371.5,599.12M368.5,593.19L371.5,593.19M368.5,588.99L371.5,588.99M368.5,585.73L371.5,585.73M368.5,583.07L371.5,583.07M368.5,580.81L371.5,580.81M368.5,578.86L371.5,578.86M368.5,577.14L371.5,577.14M368.5,575.6L373.5,575.6M368.5,565.47L371.5,565.47M368.5,559.54L371.5,559.54M368.5,555.34L371.5,555.34M368.5,552.08L371.5,552.08M368.5,549.42L371.5,549.42M368.5,547.16L371.5,547.16M368.5,545.21L371.5,545.21M368.5,543.49L371.5,543.49M368.5,541.95L373.5,541.95M368.5,531.82L371.5,531.82M368.5,525.89L371.5,525.89M368.5,521.69L371.5,521.69M368.5,518.43L371.5,518.43M368.5,515.77L371.5,515.77M368.5,513.51L371.5,513.51M368.5,511.56L371.5,511.56M368.5,509.84L371.5,509.84M368.5,508.3L373.5,508.3M368.5,498.17L371.5,498.17M368.5,492.24L371.5,492.24M368.5,488.04L371.5,488.04M368.5,484.78L371.5,484.78M368.5,482.12L371.5,482.12M368.5,479.86L371.5,479.86M368.5,477.91L371.5,477.91M368.5,476.19L371.5,476.19M368.5,474.65L373.5,474.65M368.5,464.52L371.5,464.52M368.5,458.59L371.5,458.59M368.5,454.39L371.5,454.39M368.5,451.13L371.5,451.13M368.5,448.47L371.5,448.47M368.5,446.21L371.5,446.21M368.5,444.26L371.5,444.26M368.5,442.54L371.5,442.54M368.5,441L373.5,441M368.5,430.87L371.5,430.87M368.5,424.94L371.5,424.94M368.5,420.74L371.5,420.74M368.5,417.48L371.5,417.48M368.5,414.82L371.5,414.82M368.5,412.56L371.5,412.56M368.5,410.61L371.5,410.61M368.5,408.89L371.5,408.89M368.5,407.35L373.5,407.35M368.5,397.22L371.5,397.22M368.5,391.29L371.5,391.29M368.5,387.09L371.5,387.09M368.5,383.83L371.5,383.83M368.5,381.17L371.5,381.17M368.5,378.91L371.5,378.91M368.5,376.96L371.5,376.96M368.5,375.24L371.5,375.24M368.5,373.7L373.5,373.7M368.5,363.57L371.5,363.57M368.5,357.64L371.5,357.64M368.5,353.44L371.5,353.44M368.5,350.18L371.5,350.18" stroke="#000" stroke-width="1.55" fill="none"/>
<text x="21.5" y="480" font-size="14" text-anchor="middle" fill="#000" transform="rotate(-90 21.5 480)" >Luminance (cd m<tspan font-size="8.7" dy="-5.9">-2</tspan><tspan dy="5.9">)</tspan></text>
<text x="417" y="470" font-size="14" text-anchor="middle" fill="#000" transform="rotate(-90 417 470)" >Current Density (mA cm<tspan font-size="8.7" dy="-5.9">-2</tspan><tspan dy="5.9">)</tspan></text>
<text x="203.7" y="633" font-size="14" text-anchor="middle" fill="#000" >Voltage (V)</text>
</g>
<g id="panel-d">
<path d="M523.5,373.5L582.9,378.4L625.6,387.1L658.2,392.6L684.3,398.4L705.4,402.6L722.8,406.4L737.5,409.1L750.6,411.5L761.7,413.2L770.2,414.6" stroke="#505050" stroke-width="1.45" fill="none" stroke-linejoin="round"/>
<rect x="520.7" y="370.7" width="5.6" height="5.6" fill="#505050"/><rect x="580.1" y="375.6" width="5.6" height="5.6" fill="#505050"/><rect x="622.8" y="384.3" width="5.6" height="5.6" fill="#505050"/><rect x="655.4" y="389.8" width="5.6" height="5.6" fill="#505050"/><rect x="681.5" y="395.6" width="5.6" height="5.6" fill="#505050"/><rect x="702.6" y="399.8" width="5.6" height="5.6" fill="#505050"/><rect x="720" y="403.6" width="5.6" height="5.6" fill="#505050"/><rect x="734.7" y="406.3" width="5.6" height="5.6" fill="#505050"/><rect x="747.8" y="408.7" width="5.6" height="5.6" fill="#505050"/><rect x="758.9" y="410.4" width="5.6" height="5.6" fill="#505050"/><rect x="767.4" y="411.8" width="5.6" height="5.6" fill="#505050"/>
<path d="M537.9,365.1L595.1,366.8L639.7,368L674.4,373.5L701.7,380L723.3,386.6L740.9,392.4L756.4,398L770.4,402.6L785.2,408.4L800.4,413" stroke="#089fea" stroke-width="1.65" fill="none" stroke-linejoin="round"/>
<circle cx="537.9" cy="365.1" r="3.4" fill="#089fea"/><circle cx="595.1" cy="366.8" r="3.4" fill="#089fea"/><circle cx="639.7" cy="368" r="3.4" fill="#089fea"/><circle cx="674.4" cy="373.5" r="3.4" fill="#089fea"/><circle cx="701.7" cy="380" r="3.4" fill="#089fea"/><circle cx="723.3" cy="386.6" r="3.4" fill="#089fea"/><circle cx="740.9" cy="392.4" r="3.4" fill="#089fea"/><circle cx="756.4" cy="398" r="3.4" fill="#089fea"/><circle cx="770.4" cy="402.6" r="3.4" fill="#089fea"/><circle cx="785.2" cy="408.4" r="3.4" fill="#089fea"/><circle cx="800.4" cy="413" r="3.4" fill="#089fea"/>
<path d="M537.9,362.2L595.1,366L639.7,368.7L674.4,375.2L701.7,381.5L723.3,387.8L740.9,394.1L756.4,399.4L770.4,405.2L785.2,412.7" stroke="#ff0a0a" stroke-width="1.7" fill="none" stroke-linejoin="round"/>
<path d="M533.6,362.2L537.9,357.9L542.2,362.2L537.9,366.5Z" fill="#ff0a0a"/><path d="M590.8,366L595.1,361.7L599.4,366L595.1,370.3Z" fill="#ff0a0a"/><path d="M635.4,368.7L639.7,364.4L644,368.7L639.7,373Z" fill="#ff0a0a"/><path d="M670.1,375.2L674.4,370.9L678.7,375.2L674.4,379.5Z" fill="#ff0a0a"/><path d="M697.4,381.5L701.7,377.2L706,381.5L701.7,385.8Z" fill="#ff0a0a"/><path d="M719,387.8L723.3,383.5L727.6,387.8L723.3,392.1Z" fill="#ff0a0a"/><path d="M736.6,394.1L740.9,389.8L745.2,394.1L740.9,398.4Z" fill="#ff0a0a"/><path d="M752.1,399.4L756.4,395.1L760.7,399.4L756.4,403.7Z" fill="#ff0a0a"/><path d="M766.1,405.2L770.4,400.9L774.7,405.2L770.4,409.5Z" fill="#ff0a0a"/><path d="M780.9,412.7L785.2,408.4L789.5,412.7L785.2,417Z" fill="#ff0a0a"/>
<rect x="504.8" y="347.4" width="311.2" height="74" fill="none" stroke="#000" stroke-width="1.55"/>
<text x="497.3" y="426.2" font-size="13.5" text-anchor="end" fill="#000" >0</text>
<text x="497.3" y="395.4" font-size="13.5" text-anchor="end" fill="#000" >5</text>
<text x="497.3" y="364.7" font-size="13.5" text-anchor="end" fill="#000" >10</text>
<path d="M505.44,421.4L505.44,424.4M513.2,421.4L513.2,424.4M519.54,421.4L519.54,424.4M524.9,421.4L524.9,424.4M529.54,421.4L529.54,424.4M533.64,421.4L533.64,424.4M537.3,421.4L537.3,426.4M561.4,421.4L561.4,424.4M575.49,421.4L575.49,424.4M585.49,421.4L585.49,424.4M593.25,421.4L593.25,424.4M599.59,421.4L599.59,424.4M604.95,421.4L604.95,424.4M609.59,421.4L609.59,424.4M613.69,421.4L613.69,424.4M617.35,421.4L617.35,426.4M641.45,421.4L641.45,424.4M655.54,421.4L655.54,424.4M665.54,421.4L665.54,424.4M673.3,421.4L673.3,424.4M679.64,421.4L679.64,424.4M685,421.4L685,424.4M689.64,421.4L689.64,424.4M693.74,421.4L693.74,424.4M697.4,421.4L697.4,426.4M721.5,421.4L721.5,424.4M735.59,421.4L735.59,424.4M745.59,421.4L745.59,424.4M753.35,421.4L753.35,424.4M759.69,421.4L759.69,424.4M765.05,421.4L765.05,424.4M769.69,421.4L769.69,424.4M773.79,421.4L773.79,424.4M777.45,421.4L777.45,426.4M801.55,421.4L801.55,424.4M815.64,421.4L815.64,424.4M504.8,421.4L499.8,421.4M504.8,390.6L499.8,390.6M504.8,359.9L499.8,359.9M504.8,406L501.8,406M504.8,375.2L501.8,375.2" stroke="#000" stroke-width="1.55" fill="none"/>
<text x="473.5" y="386" font-size="14" text-anchor="middle" fill="#000" transform="rotate(-90 473.5 386)" >CE (cd A-1)</text>
<path d="M523.5,458.7L582.9,471.1L625.6,480.8L658.2,487.6L684.3,492L705.4,495.1L722.8,496.8L737.5,498.5L750.6,499.5L761.7,500.2L770.2,501.2" stroke="#505050" stroke-width="1.45" fill="none" stroke-linejoin="round"/>
<rect x="520.7" y="455.9" width="5.6" height="5.6" fill="#505050"/><rect x="580.1" y="468.3" width="5.6" height="5.6" fill="#505050"/><rect x="622.8" y="478" width="5.6" height="5.6" fill="#505050"/><rect x="655.4" y="484.8" width="5.6" height="5.6" fill="#505050"/><rect x="681.5" y="489.2" width="5.6" height="5.6" fill="#505050"/><rect x="702.6" y="492.3" width="5.6" height="5.6" fill="#505050"/><rect x="720" y="494" width="5.6" height="5.6" fill="#505050"/><rect x="734.7" y="495.7" width="5.6" height="5.6" fill="#505050"/><rect x="747.8" y="496.7" width="5.6" height="5.6" fill="#505050"/><rect x="758.9" y="497.4" width="5.6" height="5.6" fill="#505050"/><rect x="767.4" y="498.4" width="5.6" height="5.6" fill="#505050"/>
<path d="M537.9,455.5L595.1,465.4L639.7,471.7L674.4,478.4L701.7,483.8L723.3,488.6L740.9,492.7L756.4,495.8L770.4,497.5L785.2,499.2L800.4,500.5" stroke="#089fea" stroke-width="1.65" fill="none" stroke-linejoin="round"/>
<circle cx="537.9" cy="455.5" r="3.4" fill="#089fea"/><circle cx="595.1" cy="465.4" r="3.4" fill="#089fea"/><circle cx="639.7" cy="471.7" r="3.4" fill="#089fea"/><circle cx="674.4" cy="478.4" r="3.4" fill="#089fea"/><circle cx="701.7" cy="483.8" r="3.4" fill="#089fea"/><circle cx="723.3" cy="488.6" r="3.4" fill="#089fea"/><circle cx="740.9" cy="492.7" r="3.4" fill="#089fea"/><circle cx="756.4" cy="495.8" r="3.4" fill="#089fea"/><circle cx="770.4" cy="497.5" r="3.4" fill="#089fea"/><circle cx="785.2" cy="499.2" r="3.4" fill="#089fea"/><circle cx="800.4" cy="500.5" r="3.4" fill="#089fea"/>
<path d="M537.9,444.1L595.1,459.4L639.7,469L674.4,477L701.7,483.3L723.3,488.4L740.9,492.2L756.4,495.4L770.4,497.3L785.2,499.7" stroke="#ff0a0a" stroke-width="1.7" fill="none" stroke-linejoin="round"/>
<path d="M533.6,444.1L537.9,439.8L542.2,444.1L537.9,448.4Z" fill="#ff0a0a"/><path d="M590.8,459.4L595.1,455.1L599.4,459.4L595.1,463.7Z" fill="#ff0a0a"/><path d="M635.4,469L639.7,464.7L644,469L639.7,473.3Z" fill="#ff0a0a"/><path d="M670.1,477L674.4,472.7L678.7,477L674.4,481.3Z" fill="#ff0a0a"/><path d="M697.4,483.3L701.7,479L706,483.3L701.7,487.6Z" fill="#ff0a0a"/><path d="M719,488.4L723.3,484.1L727.6,488.4L723.3,492.7Z" fill="#ff0a0a"/><path d="M736.6,492.2L740.9,487.9L745.2,492.2L740.9,496.5Z" fill="#ff0a0a"/><path d="M752.1,495.4L756.4,491.1L760.7,495.4L756.4,499.7Z" fill="#ff0a0a"/><path d="M766.1,497.3L770.4,493L774.7,497.3L770.4,501.6Z" fill="#ff0a0a"/><path d="M780.9,499.7L785.2,495.4L789.5,499.7L785.2,504Z" fill="#ff0a0a"/>
<rect x="504.8" y="436.4" width="311.2" height="73.9" fill="none" stroke="#000" stroke-width="1.55"/>
<text x="497.3" y="507.4" font-size="13.5" text-anchor="end" fill="#000" >0</text>
<text x="497.3" y="477.9" font-size="13.5" text-anchor="end" fill="#000" >4</text>
<text x="497.3" y="448.5" font-size="13.5" text-anchor="end" fill="#000" >8</text>
<path d="M505.44,510.3L505.44,513.3M513.2,510.3L513.2,513.3M519.54,510.3L519.54,513.3M524.9,510.3L524.9,513.3M529.54,510.3L529.54,513.3M533.64,510.3L533.64,513.3M537.3,510.3L537.3,515.3M561.4,510.3L561.4,513.3M575.49,510.3L575.49,513.3M585.49,510.3L585.49,513.3M593.25,510.3L593.25,513.3M599.59,510.3L599.59,513.3M604.95,510.3L604.95,513.3M609.59,510.3L609.59,513.3M613.69,510.3L613.69,513.3M617.35,510.3L617.35,515.3M641.45,510.3L641.45,513.3M655.54,510.3L655.54,513.3M665.54,510.3L665.54,513.3M673.3,510.3L673.3,513.3M679.64,510.3L679.64,513.3M685,510.3L685,513.3M689.64,510.3L689.64,513.3M693.74,510.3L693.74,513.3M697.4,510.3L697.4,515.3M721.5,510.3L721.5,513.3M735.59,510.3L735.59,513.3M745.59,510.3L745.59,513.3M753.35,510.3L753.35,513.3M759.69,510.3L759.69,513.3M765.05,510.3L765.05,513.3M769.69,510.3L769.69,513.3M773.79,510.3L773.79,513.3M777.45,510.3L777.45,515.3M801.55,510.3L801.55,513.3M815.64,510.3L815.64,513.3M504.8,502.6L499.8,502.6M504.8,473.1L499.8,473.1M504.8,443.7L499.8,443.7M504.8,487.9L501.8,487.9M504.8,458.4L501.8,458.4" stroke="#000" stroke-width="1.55" fill="none"/>
<text x="473.5" y="474" font-size="14" text-anchor="middle" fill="#000" transform="rotate(-90 473.5 474)" >PE (lm W-1)</text>
<path d="M523.5,560.5L582.9,564.2L625.6,570.9L658.2,575.9L684.3,580.5L705.4,584.2L722.8,586.8L737.5,589.2L750.6,590.9L761.7,592.1L770.2,593.1" stroke="#505050" stroke-width="1.45" fill="none" stroke-linejoin="round"/>
<rect x="520.7" y="557.7" width="5.6" height="5.6" fill="#505050"/><rect x="580.1" y="561.4" width="5.6" height="5.6" fill="#505050"/><rect x="622.8" y="568.1" width="5.6" height="5.6" fill="#505050"/><rect x="655.4" y="573.1" width="5.6" height="5.6" fill="#505050"/><rect x="681.5" y="577.7" width="5.6" height="5.6" fill="#505050"/><rect x="702.6" y="581.4" width="5.6" height="5.6" fill="#505050"/><rect x="720" y="584" width="5.6" height="5.6" fill="#505050"/><rect x="734.7" y="586.4" width="5.6" height="5.6" fill="#505050"/><rect x="747.8" y="588.1" width="5.6" height="5.6" fill="#505050"/><rect x="758.9" y="589.3" width="5.6" height="5.6" fill="#505050"/><rect x="767.4" y="590.3" width="5.6" height="5.6" fill="#505050"/>
<path d="M537.9,542.5L595.1,544L639.7,545.2L674.4,551L701.7,557.8L723.3,563.8L740.9,569.9L756.4,575.7L770.4,580.3L785.2,585.9L800.4,590.7" stroke="#089fea" stroke-width="1.65" fill="none" stroke-linejoin="round"/>
<circle cx="537.9" cy="542.5" r="3.4" fill="#089fea"/><circle cx="595.1" cy="544" r="3.4" fill="#089fea"/><circle cx="639.7" cy="545.2" r="3.4" fill="#089fea"/><circle cx="674.4" cy="551" r="3.4" fill="#089fea"/><circle cx="701.7" cy="557.8" r="3.4" fill="#089fea"/><circle cx="723.3" cy="563.8" r="3.4" fill="#089fea"/><circle cx="740.9" cy="569.9" r="3.4" fill="#089fea"/><circle cx="756.4" cy="575.7" r="3.4" fill="#089fea"/><circle cx="770.4" cy="580.3" r="3.4" fill="#089fea"/><circle cx="785.2" cy="585.9" r="3.4" fill="#089fea"/><circle cx="800.4" cy="590.7" r="3.4" fill="#089fea"/>
<path d="M537.9,539.8L595.1,543.3L639.7,546.1L674.4,552.7L701.7,559L723.3,565.3L740.9,571.6L756.4,577.1L770.4,582.9L785.2,590.4" stroke="#ff0a0a" stroke-width="1.7" fill="none" stroke-linejoin="round"/>
<path d="M533.6,539.8L537.9,535.5L542.2,539.8L537.9,544.1Z" fill="#ff0a0a"/><path d="M590.8,543.3L595.1,539L599.4,543.3L595.1,547.6Z" fill="#ff0a0a"/><path d="M635.4,546.1L639.7,541.8L644,546.1L639.7,550.4Z" fill="#ff0a0a"/><path d="M670.1,552.7L674.4,548.4L678.7,552.7L674.4,557Z" fill="#ff0a0a"/><path d="M697.4,559L701.7,554.7L706,559L701.7,563.3Z" fill="#ff0a0a"/><path d="M719,565.3L723.3,561L727.6,565.3L723.3,569.6Z" fill="#ff0a0a"/><path d="M736.6,571.6L740.9,567.3L745.2,571.6L740.9,575.9Z" fill="#ff0a0a"/><path d="M752.1,577.1L756.4,572.8L760.7,577.1L756.4,581.4Z" fill="#ff0a0a"/><path d="M766.1,582.9L770.4,578.6L774.7,582.9L770.4,587.2Z" fill="#ff0a0a"/><path d="M780.9,590.4L785.2,586.1L789.5,590.4L785.2,594.7Z" fill="#ff0a0a"/>
<rect x="504.8" y="525.4" width="311.2" height="73.5" fill="none" stroke="#000" stroke-width="1.55"/>
<text x="497.3" y="603.6" font-size="13.5" text-anchor="end" fill="#000" >0</text>
<text x="497.3" y="579.1" font-size="13.5" text-anchor="end" fill="#000" >10</text>
<text x="497.3" y="554.6" font-size="13.5" text-anchor="end" fill="#000" >20</text>
<text x="497.3" y="530.2" font-size="13.5" text-anchor="end" fill="#000" >30</text>
<path d="M505.44,598.9L505.44,601.9M513.2,598.9L513.2,601.9M519.54,598.9L519.54,601.9M524.9,598.9L524.9,601.9M529.54,598.9L529.54,601.9M533.64,598.9L533.64,601.9M537.3,598.9L537.3,603.9M561.4,598.9L561.4,601.9M575.49,598.9L575.49,601.9M585.49,598.9L585.49,601.9M593.25,598.9L593.25,601.9M599.59,598.9L599.59,601.9M604.95,598.9L604.95,601.9M609.59,598.9L609.59,601.9M613.69,598.9L613.69,601.9M617.35,598.9L617.35,603.9M641.45,598.9L641.45,601.9M655.54,598.9L655.54,601.9M665.54,598.9L665.54,601.9M673.3,598.9L673.3,601.9M679.64,598.9L679.64,601.9M685,598.9L685,601.9M689.64,598.9L689.64,601.9M693.74,598.9L693.74,601.9M697.4,598.9L697.4,603.9M721.5,598.9L721.5,601.9M735.59,598.9L735.59,601.9M745.59,598.9L745.59,601.9M753.35,598.9L753.35,601.9M759.69,598.9L759.69,601.9M765.05,598.9L765.05,601.9M769.69,598.9L769.69,601.9M773.79,598.9L773.79,601.9M777.45,598.9L777.45,603.9M801.55,598.9L801.55,601.9M815.64,598.9L815.64,601.9M504.8,598.8L499.8,598.8M504.8,574.3L499.8,574.3M504.8,549.8L499.8,549.8M504.8,525.4L499.8,525.4M504.8,586.5L501.8,586.5M504.8,562L501.8,562M504.8,537.6L501.8,537.6" stroke="#000" stroke-width="1.55" fill="none"/>
<text x="473.5" y="563" font-size="14" text-anchor="middle" fill="#000" transform="rotate(-90 473.5 563)" >EQE (%)</text>
<line x1="731.6" y1="447.5" x2="761" y2="447.5" stroke="#505050" stroke-width="1.4" />
<rect x="743.05" y="444.25" width="6.5" height="6.5" fill="#505050"/>
<text x="766.9" y="452.4" font-size="13.6" text-anchor="start" font-weight="bold" fill="#000" >OBN</text>
<line x1="731.6" y1="465.4" x2="761" y2="465.4" stroke="#089fea" stroke-width="1.4" />
<circle cx="746.3" cy="465.4" r="3.8" fill="#089fea"/>
<text x="766.9" y="470.3" font-size="13.6" text-anchor="start" font-weight="bold" fill="#000" >NBN</text>
<line x1="731.6" y1="483" x2="761" y2="483" stroke="#ff0a0a" stroke-width="1.4" />
<path d="M741.2,483L746.3,477.9L751.4,483L746.3,488.1Z" fill="#ff0a0a"/>
<text x="766.9" y="487.9" font-size="13.6" text-anchor="start" font-weight="bold" fill="#000" >ODBN</text>
<text x="537.8" y="619.5" font-size="13.5" text-anchor="middle" fill="#000" >10<tspan font-size="7.96" dy="-5.8">0</tspan></text>
<text x="617.85" y="619.5" font-size="13.5" text-anchor="middle" fill="#000" >10<tspan font-size="7.96" dy="-5.8">1</tspan></text>
<text x="697.9" y="619.5" font-size="13.5" text-anchor="middle" fill="#000" >10<tspan font-size="7.96" dy="-5.8">2</tspan></text>
<text x="777.95" y="619.5" font-size="13.5" text-anchor="middle" fill="#000" >10<tspan font-size="7.96" dy="-5.8">3</tspan></text>
<text x="665.5" y="634" font-size="14" text-anchor="middle" fill="#000" >Luminance (cd m<tspan font-size="8.7" dy="-5.9">-2</tspan><tspan dy="5.9">)</tspan></text>
</g>
</svg></body></html>
